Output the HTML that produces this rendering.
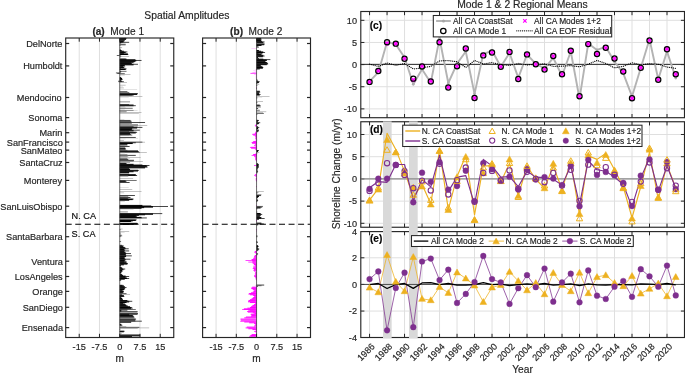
<!DOCTYPE html>
<html><head><meta charset="utf-8"><title>Figure</title>
<style>
html,body{margin:0;padding:0;background:#fff;}
svg{display:block;font-family:"Liberation Sans",sans-serif;}
text{stroke:#262626;stroke-width:0.18px;}
</style></head><body>
<svg width="685" height="374" viewBox="0 0 685 374">
<defs><filter id="idf" filterUnits="userSpaceOnUse" x="0" y="0" width="685" height="374" color-interpolation-filters="sRGB"><feOffset dx="0" dy="0"/></filter></defs>
<rect width="685" height="374" fill="#fff"/>
<g filter="url(#idf)">
<line x1="79.22" y1="38.00" x2="79.22" y2="337.50" stroke="#dfdfdf" stroke-width="1" />
<line x1="99.47" y1="38.00" x2="99.47" y2="337.50" stroke="#dfdfdf" stroke-width="1" />
<line x1="139.97" y1="38.00" x2="139.97" y2="337.50" stroke="#dfdfdf" stroke-width="1" />
<line x1="160.22" y1="38.00" x2="160.22" y2="337.50" stroke="#dfdfdf" stroke-width="1" />
<rect x="119.72" y="37.94" width="6.35" height="1.0" fill="#000"/>
<rect x="125.88" y="38.08" width="0.65" height="0.72" fill="#000"/>
<rect x="119.72" y="38.82" width="6.35" height="1.0" fill="#000"/>
<rect x="119.72" y="39.71" width="5.03" height="1.0" fill="#000"/>
<rect x="119.72" y="40.59" width="4.59" height="1.0" fill="#000"/>
<rect x="119.72" y="41.21" width="3.71" height="1.0" fill="#000"/>
<rect x="119.72" y="41.74" width="3.71" height="1.0" fill="#000"/>
<rect x="123.23" y="41.88" width="5.93" height="0.72" fill="#000"/>
<rect x="119.72" y="42.35" width="1.50" height="1.0" fill="#000"/>
<rect x="119.72" y="43.80" width="5.91" height="0.75" fill="#444"/>
<rect x="119.72" y="44.51" width="5.91" height="0.75" fill="#444"/>
<rect x="119.72" y="45.14" width="0.62" height="0.72" fill="#000"/>
<rect x="119.72" y="47.28" width="2.38" height="0.5" fill="#888"/>
<rect x="119.72" y="47.94" width="1.50" height="0.42" fill="#bbb"/>
<rect x="119.72" y="49.42" width="1.06" height="1.0" fill="#000"/>
<rect x="119.72" y="50.03" width="1.94" height="1.0" fill="#000"/>
<rect x="119.72" y="50.74" width="4.15" height="1.0" fill="#000"/>
<rect x="119.72" y="51.45" width="5.91" height="1.0" fill="#000"/>
<rect x="125.43" y="51.59" width="1.97" height="0.72" fill="#000"/>
<rect x="119.72" y="52.06" width="5.91" height="1.0" fill="#000"/>
<rect x="119.72" y="52.68" width="4.15" height="1.0" fill="#000"/>
<rect x="119.72" y="53.39" width="8.12" height="1.0" fill="#000"/>
<rect x="119.72" y="54.00" width="8.12" height="1.0" fill="#000"/>
<rect x="127.64" y="54.14" width="0.64" height="0.72" fill="#000"/>
<rect x="119.72" y="54.53" width="0.62" height="1.0" fill="#000"/>
<rect x="116.81" y="55.12" width="2.91" height="0.72" fill="#222"/>
<rect x="119.72" y="55.73" width="1.50" height="0.72" fill="#000"/>
<rect x="119.72" y="56.28" width="9.44" height="0.5" fill="#888"/>
<rect x="119.72" y="56.79" width="0.62" height="0.72" fill="#000"/>
<rect x="119.72" y="58.23" width="5.91" height="0.5" fill="#888"/>
<rect x="119.72" y="58.68" width="6.80" height="1.0" fill="#000"/>
<rect x="119.72" y="59.30" width="15.62" height="1.0" fill="#000"/>
<rect x="119.72" y="59.83" width="16.50" height="1.0" fill="#000"/>
<rect x="136.03" y="59.97" width="5.50" height="0.72" fill="#000"/>
<rect x="119.72" y="60.45" width="16.50" height="1.0" fill="#000"/>
<rect x="119.72" y="61.15" width="15.18" height="1.0" fill="#000"/>
<rect x="119.72" y="61.77" width="13.86" height="1.0" fill="#000"/>
<rect x="119.72" y="62.39" width="11.21" height="1.0" fill="#000"/>
<rect x="119.72" y="63.10" width="12.09" height="1.0" fill="#000"/>
<rect x="119.72" y="63.71" width="13.86" height="1.0" fill="#000"/>
<rect x="133.38" y="63.85" width="4.61" height="0.72" fill="#000"/>
<rect x="119.72" y="64.33" width="13.86" height="1.0" fill="#000"/>
<rect x="119.72" y="65.04" width="5.03" height="1.0" fill="#000"/>
<rect x="119.72" y="65.74" width="3.27" height="1.0" fill="#000"/>
<rect x="119.72" y="66.45" width="4.15" height="1.0" fill="#000"/>
<rect x="123.67" y="66.59" width="1.52" height="0.72" fill="#000"/>
<rect x="119.72" y="67.07" width="4.15" height="1.0" fill="#000"/>
<rect x="119.72" y="67.69" width="1.06" height="1.0" fill="#000"/>
<rect x="119.72" y="68.39" width="5.91" height="1.0" fill="#000"/>
<rect x="125.43" y="68.53" width="1.09" height="0.72" fill="#000"/>
<rect x="119.72" y="69.01" width="5.91" height="1.0" fill="#000"/>
<rect x="119.72" y="69.72" width="0.62" height="1.0" fill="#000"/>
<rect x="119.72" y="70.89" width="6.80" height="0.75" fill="#444"/>
<rect x="119.72" y="71.38" width="0.62" height="1.0" fill="#000"/>
<rect x="120.14" y="71.52" width="1.08" height="0.72" fill="#000"/>
<rect x="119.72" y="72.44" width="0.62" height="1.0" fill="#000"/>
<rect x="115.92" y="72.58" width="3.80" height="0.72" fill="#222"/>
<rect x="119.72" y="73.28" width="5.03" height="0.75" fill="#444"/>
<rect x="117.25" y="73.29" width="2.47" height="0.72" fill="#222"/>
<rect x="119.72" y="74.10" width="10.77" height="0.5" fill="#888"/>
<rect x="119.72" y="74.72" width="5.03" height="0.5" fill="#888"/>
<rect x="119.72" y="77.12" width="1.50" height="1.0" fill="#000"/>
<rect x="119.72" y="78.00" width="2.38" height="1.0" fill="#000"/>
<rect x="119.72" y="78.88" width="2.38" height="1.0" fill="#000"/>
<rect x="121.91" y="79.02" width="0.64" height="0.72" fill="#000"/>
<rect x="119.72" y="79.77" width="1.50" height="1.0" fill="#000"/>
<rect x="119.72" y="80.65" width="1.50" height="1.0" fill="#000"/>
<rect x="121.02" y="80.79" width="1.08" height="0.72" fill="#000"/>
<rect x="118.13" y="80.79" width="1.59" height="0.72" fill="#222"/>
<rect x="119.72" y="81.41" width="4.15" height="0.72" fill="#000"/>
<rect x="118.57" y="81.41" width="1.15" height="0.72" fill="#222"/>
<rect x="119.72" y="82.22" width="7.24" height="0.5" fill="#888"/>
<rect x="119.72" y="84.87" width="5.91" height="0.5" fill="#888"/>
<rect x="119.72" y="86.68" width="3.27" height="0.42" fill="#bbb"/>
<rect x="119.72" y="87.70" width="4.15" height="0.5" fill="#888"/>
<rect x="119.72" y="89.32" width="17.39" height="0.42" fill="#bbb"/>
<rect x="119.72" y="91.19" width="7.68" height="0.75" fill="#444"/>
<rect x="119.72" y="91.98" width="9.44" height="0.75" fill="#444"/>
<rect x="119.72" y="92.82" width="10.33" height="0.5" fill="#888"/>
<rect x="119.72" y="93.27" width="17.39" height="1.0" fill="#000"/>
<rect x="136.91" y="93.41" width="1.08" height="0.72" fill="#000"/>
<rect x="119.72" y="93.89" width="17.39" height="1.0" fill="#000"/>
<rect x="119.72" y="94.51" width="13.86" height="1.0" fill="#000"/>
<rect x="119.72" y="95.33" width="12.09" height="0.75" fill="#444"/>
<rect x="119.72" y="96.17" width="22.68" height="0.5" fill="#888"/>
<rect x="119.72" y="96.92" width="9.00" height="0.42" fill="#bbb"/>
<rect x="119.72" y="101.20" width="10.33" height="0.5" fill="#888"/>
<rect x="119.72" y="101.82" width="10.33" height="0.5" fill="#888"/>
<rect x="119.72" y="104.06" width="9.44" height="0.75" fill="#444"/>
<rect x="119.72" y="104.56" width="13.86" height="1.0" fill="#000"/>
<rect x="119.72" y="105.27" width="13.86" height="1.0" fill="#000"/>
<rect x="133.38" y="105.41" width="2.40" height="0.72" fill="#000"/>
<rect x="119.72" y="106.22" width="5.03" height="0.5" fill="#888"/>
<rect x="119.72" y="107.14" width="5.91" height="0.42" fill="#bbb"/>
<rect x="119.72" y="107.86" width="12.97" height="0.75" fill="#444"/>
<rect x="119.72" y="108.69" width="5.03" height="0.5" fill="#888"/>
<rect x="119.72" y="109.97" width="13.86" height="0.75" fill="#444"/>
<rect x="119.72" y="110.14" width="17.83" height="0.42" fill="#bbb"/>
<rect x="119.72" y="110.61" width="6.80" height="0.9" fill="#8c8c8c"/>
<rect x="119.72" y="111.32" width="6.80" height="0.9" fill="#8c8c8c"/>
<rect x="119.72" y="112.22" width="21.80" height="0.5" fill="#888"/>
<rect x="119.72" y="112.93" width="19.15" height="0.5" fill="#888"/>
<rect x="119.72" y="119.50" width="4.59" height="0.42" fill="#bbb"/>
<rect x="119.72" y="119.95" width="10.77" height="0.95" fill="#3c3c3c"/>
<rect x="119.72" y="120.65" width="11.65" height="0.95" fill="#3c3c3c"/>
<rect x="119.72" y="121.36" width="11.65" height="0.95" fill="#3c3c3c"/>
<rect x="119.72" y="122.17" width="25.33" height="0.72" fill="#000"/>
<rect x="119.72" y="122.86" width="12.09" height="0.75" fill="#444"/>
<rect x="119.72" y="123.50" width="9.44" height="0.9" fill="#8c8c8c"/>
<rect x="119.72" y="124.20" width="18.27" height="0.9" fill="#8c8c8c"/>
<rect x="119.72" y="124.82" width="18.27" height="0.9" fill="#8c8c8c"/>
<rect x="119.72" y="125.02" width="27.54" height="0.5" fill="#888"/>
<rect x="119.72" y="125.53" width="18.27" height="0.9" fill="#8c8c8c"/>
<rect x="119.72" y="126.31" width="13.86" height="0.75" fill="#444"/>
<rect x="119.72" y="126.80" width="17.39" height="1.0" fill="#000"/>
<rect x="136.91" y="126.94" width="5.49" height="0.72" fill="#000"/>
<rect x="119.72" y="127.51" width="17.39" height="1.0" fill="#000"/>
<rect x="119.72" y="128.21" width="12.53" height="1.0" fill="#000"/>
<rect x="119.72" y="128.92" width="12.09" height="1.0" fill="#000"/>
<rect x="119.72" y="129.63" width="13.86" height="1.0" fill="#000"/>
<rect x="133.38" y="129.77" width="6.38" height="0.72" fill="#000"/>
<rect x="119.72" y="130.33" width="13.86" height="1.0" fill="#000"/>
<rect x="119.72" y="131.16" width="9.44" height="0.75" fill="#444"/>
<rect x="119.72" y="131.74" width="16.06" height="1.0" fill="#000"/>
<rect x="135.58" y="131.88" width="1.53" height="0.72" fill="#000"/>
<rect x="119.72" y="132.45" width="16.06" height="1.0" fill="#000"/>
<rect x="119.72" y="133.16" width="10.33" height="1.0" fill="#000"/>
<rect x="119.72" y="133.86" width="10.33" height="1.0" fill="#000"/>
<rect x="129.85" y="134.00" width="1.08" height="0.72" fill="#000"/>
<rect x="119.72" y="134.69" width="12.53" height="0.75" fill="#444"/>
<rect x="119.72" y="135.52" width="9.44" height="0.5" fill="#888"/>
<rect x="119.72" y="136.97" width="16.06" height="0.95" fill="#3c3c3c"/>
<rect x="119.72" y="137.94" width="18.27" height="0.42" fill="#bbb"/>
<rect x="119.72" y="138.73" width="5.91" height="0.42" fill="#bbb"/>
<rect x="119.72" y="140.28" width="4.15" height="0.5" fill="#888"/>
<rect x="119.72" y="141.76" width="22.68" height="0.72" fill="#000"/>
<rect x="119.72" y="141.87" width="25.33" height="0.5" fill="#888"/>
<rect x="119.72" y="142.33" width="12.97" height="1.0" fill="#000"/>
<rect x="132.50" y="142.47" width="3.29" height="0.72" fill="#000"/>
<rect x="119.72" y="143.03" width="12.97" height="1.0" fill="#000"/>
<rect x="119.72" y="143.74" width="7.68" height="1.0" fill="#000"/>
<rect x="119.72" y="144.47" width="5.03" height="0.95" fill="#3c3c3c"/>
<rect x="119.72" y="145.20" width="7.68" height="0.9" fill="#8c8c8c"/>
<rect x="119.72" y="146.00" width="9.89" height="0.72" fill="#000"/>
<rect x="119.72" y="147.53" width="5.47" height="1.0" fill="#000"/>
<rect x="119.72" y="148.24" width="5.47" height="1.0" fill="#000"/>
<rect x="124.99" y="148.38" width="0.64" height="0.72" fill="#000"/>
<rect x="119.72" y="148.97" width="5.91" height="0.95" fill="#3c3c3c"/>
<rect x="119.72" y="149.79" width="7.68" height="0.9" fill="#8c8c8c"/>
<rect x="119.72" y="150.45" width="18.27" height="1.0" fill="#000"/>
<rect x="119.72" y="151.15" width="18.27" height="1.0" fill="#000"/>
<rect x="137.79" y="151.29" width="1.08" height="0.72" fill="#000"/>
<rect x="119.72" y="151.89" width="20.04" height="0.95" fill="#3c3c3c"/>
<rect x="119.72" y="152.11" width="27.10" height="0.5" fill="#888"/>
<rect x="119.72" y="152.85" width="5.03" height="0.42" fill="#bbb"/>
<rect x="119.72" y="154.20" width="7.68" height="0.9" fill="#8c8c8c"/>
<rect x="119.72" y="154.89" width="16.06" height="0.95" fill="#3c3c3c"/>
<rect x="119.72" y="155.61" width="8.56" height="0.9" fill="#8c8c8c"/>
<rect x="119.72" y="156.32" width="7.68" height="0.9" fill="#8c8c8c"/>
<rect x="119.72" y="157.23" width="20.92" height="0.5" fill="#888"/>
<rect x="119.72" y="157.97" width="10.33" height="0.42" fill="#bbb"/>
<rect x="119.72" y="158.41" width="7.68" height="0.95" fill="#3c3c3c"/>
<rect x="119.72" y="159.12" width="8.56" height="0.95" fill="#3c3c3c"/>
<rect x="119.72" y="159.83" width="14.30" height="0.95" fill="#3c3c3c"/>
<rect x="119.72" y="160.53" width="13.86" height="0.95" fill="#3c3c3c"/>
<rect x="119.72" y="161.29" width="23.12" height="0.5" fill="#888"/>
<rect x="119.72" y="161.79" width="10.33" height="0.9" fill="#8c8c8c"/>
<rect x="119.72" y="162.50" width="5.91" height="0.9" fill="#8c8c8c"/>
<rect x="119.72" y="163.15" width="6.80" height="1.0" fill="#000"/>
<rect x="119.72" y="163.86" width="13.86" height="1.0" fill="#000"/>
<rect x="119.72" y="164.57" width="22.68" height="1.0" fill="#000"/>
<rect x="119.72" y="165.10" width="27.10" height="1.0" fill="#000"/>
<rect x="146.62" y="165.24" width="2.84" height="0.72" fill="#000"/>
<rect x="119.72" y="165.80" width="27.10" height="1.0" fill="#000"/>
<rect x="119.72" y="166.51" width="27.10" height="1.0" fill="#000"/>
<rect x="146.62" y="166.65" width="1.08" height="0.72" fill="#000"/>
<rect x="119.72" y="167.21" width="25.33" height="1.0" fill="#000"/>
<rect x="119.72" y="167.90" width="9.44" height="0.72" fill="#000"/>
<rect x="119.72" y="168.01" width="25.33" height="0.5" fill="#888"/>
<rect x="119.72" y="168.38" width="9.44" height="1.0" fill="#000"/>
<rect x="119.72" y="169.09" width="10.33" height="1.0" fill="#000"/>
<rect x="119.72" y="169.79" width="18.27" height="1.0" fill="#000"/>
<rect x="137.79" y="169.93" width="1.08" height="0.72" fill="#000"/>
<rect x="119.72" y="170.50" width="18.27" height="1.0" fill="#000"/>
<rect x="119.72" y="171.21" width="13.86" height="1.0" fill="#000"/>
<rect x="119.72" y="171.91" width="9.44" height="1.0" fill="#000"/>
<rect x="119.72" y="173.53" width="9.44" height="0.95" fill="#3c3c3c"/>
<rect x="119.72" y="174.21" width="16.06" height="1.0" fill="#000"/>
<rect x="119.72" y="174.91" width="16.06" height="1.0" fill="#000"/>
<rect x="135.58" y="175.05" width="1.53" height="0.72" fill="#000"/>
<rect x="119.72" y="175.67" width="8.56" height="0.9" fill="#8c8c8c"/>
<rect x="119.72" y="178.16" width="13.42" height="0.5" fill="#888"/>
<rect x="119.72" y="179.99" width="16.95" height="0.75" fill="#444"/>
<rect x="119.72" y="180.56" width="5.91" height="1.0" fill="#000"/>
<rect x="119.72" y="181.27" width="5.91" height="1.0" fill="#000"/>
<rect x="125.43" y="181.41" width="1.09" height="0.72" fill="#000"/>
<rect x="119.72" y="182.00" width="9.89" height="0.95" fill="#3c3c3c"/>
<rect x="119.72" y="187.21" width="9.00" height="0.42" fill="#bbb"/>
<rect x="119.72" y="189.11" width="12.53" height="0.5" fill="#888"/>
<rect x="119.72" y="191.14" width="21.80" height="0.5" fill="#888"/>
<rect x="119.72" y="192.06" width="4.15" height="0.42" fill="#bbb"/>
<rect x="119.72" y="192.77" width="4.59" height="0.42" fill="#bbb"/>
<rect x="119.72" y="195.00" width="15.18" height="0.72" fill="#000"/>
<rect x="119.72" y="195.59" width="8.56" height="0.95" fill="#3c3c3c"/>
<rect x="119.72" y="196.32" width="5.91" height="0.9" fill="#8c8c8c"/>
<rect x="119.72" y="197.00" width="10.77" height="0.95" fill="#3c3c3c"/>
<rect x="119.72" y="197.72" width="7.68" height="0.95" fill="#3c3c3c"/>
<rect x="119.72" y="198.06" width="8.56" height="0.75" fill="#444"/>
<rect x="119.72" y="198.56" width="12.97" height="1.0" fill="#000"/>
<rect x="132.50" y="198.70" width="1.09" height="0.72" fill="#000"/>
<rect x="119.72" y="199.09" width="12.97" height="1.0" fill="#000"/>
<rect x="119.72" y="199.71" width="9.44" height="1.0" fill="#000"/>
<rect x="119.72" y="200.44" width="5.03" height="0.75" fill="#444"/>
<rect x="119.72" y="204.91" width="22.68" height="1.0" fill="#000"/>
<rect x="119.72" y="205.53" width="31.51" height="1.0" fill="#000"/>
<rect x="119.72" y="206.06" width="33.27" height="1.0" fill="#000"/>
<rect x="152.79" y="206.20" width="15.21" height="0.72" fill="#000"/>
<rect x="119.72" y="206.59" width="33.27" height="1.0" fill="#000"/>
<rect x="119.72" y="207.12" width="24.45" height="1.0" fill="#000"/>
<rect x="119.72" y="207.74" width="21.80" height="1.0" fill="#000"/>
<rect x="119.72" y="208.40" width="13.86" height="0.75" fill="#444"/>
<rect x="119.72" y="211.17" width="8.12" height="0.5" fill="#888"/>
<rect x="119.72" y="211.87" width="8.12" height="0.5" fill="#888"/>
<rect x="119.72" y="213.21" width="33.27" height="1.0" fill="#000"/>
<rect x="152.79" y="213.35" width="9.47" height="0.72" fill="#000"/>
<rect x="119.72" y="213.74" width="33.27" height="1.0" fill="#000"/>
<rect x="119.72" y="214.27" width="25.33" height="1.0" fill="#000"/>
<rect x="119.72" y="214.80" width="19.15" height="1.0" fill="#000"/>
<rect x="119.72" y="215.33" width="16.50" height="1.0" fill="#000"/>
<rect x="119.72" y="215.86" width="16.06" height="1.0" fill="#000"/>
<rect x="119.72" y="216.39" width="17.39" height="1.0" fill="#000"/>
<rect x="119.72" y="216.92" width="21.80" height="1.0" fill="#000"/>
<rect x="119.72" y="217.45" width="21.80" height="1.0" fill="#000"/>
<rect x="141.32" y="217.59" width="5.50" height="0.72" fill="#000"/>
<rect x="119.72" y="218.23" width="22.68" height="0.5" fill="#888"/>
<rect x="119.72" y="219.39" width="16.06" height="1.0" fill="#000"/>
<rect x="135.58" y="219.53" width="1.09" height="0.72" fill="#000"/>
<rect x="119.72" y="219.92" width="16.06" height="1.0" fill="#000"/>
<rect x="119.72" y="220.45" width="12.97" height="1.0" fill="#000"/>
<rect x="119.72" y="220.98" width="11.21" height="1.0" fill="#000"/>
<rect x="119.72" y="222.83" width="17.39" height="1.0" fill="#000"/>
<rect x="136.91" y="222.97" width="1.08" height="0.72" fill="#000"/>
<rect x="119.72" y="223.36" width="17.39" height="1.0" fill="#000"/>
<rect x="119.72" y="223.89" width="13.86" height="1.0" fill="#000"/>
<rect x="119.72" y="228.77" width="2.94" height="0.5" fill="#888"/>
<rect x="119.72" y="229.48" width="0.82" height="0.72" fill="#000"/>
<rect x="119.72" y="231.23" width="9.48" height="0.5" fill="#888"/>
<rect x="119.72" y="232.08" width="4.91" height="0.42" fill="#bbb"/>
<rect x="119.72" y="232.75" width="0.82" height="0.72" fill="#000"/>
<rect x="119.72" y="234.71" width="1.64" height="0.72" fill="#000"/>
<rect x="119.72" y="235.51" width="2.45" height="0.75" fill="#444"/>
<rect x="119.72" y="236.35" width="0.82" height="0.72" fill="#000"/>
<rect x="119.72" y="241.25" width="1.31" height="0.72" fill="#000"/>
<rect x="119.72" y="241.11" width="1.50" height="0.42" fill="#bbb"/>
<rect x="119.72" y="244.83" width="2.38" height="0.95" fill="#3c3c3c"/>
<rect x="119.72" y="245.50" width="3.27" height="1.0" fill="#000"/>
<rect x="122.79" y="245.64" width="1.08" height="0.72" fill="#000"/>
<rect x="119.72" y="246.21" width="3.27" height="1.0" fill="#000"/>
<rect x="119.72" y="246.91" width="5.03" height="1.0" fill="#000"/>
<rect x="119.72" y="247.62" width="5.91" height="1.0" fill="#000"/>
<rect x="119.72" y="248.33" width="5.91" height="1.0" fill="#000"/>
<rect x="125.43" y="248.47" width="3.29" height="0.72" fill="#000"/>
<rect x="119.72" y="249.03" width="4.59" height="1.0" fill="#000"/>
<rect x="119.72" y="249.74" width="5.03" height="1.0" fill="#000"/>
<rect x="119.72" y="250.44" width="5.03" height="1.0" fill="#000"/>
<rect x="124.55" y="250.58" width="4.61" height="0.72" fill="#000"/>
<rect x="119.72" y="251.15" width="4.59" height="1.0" fill="#000"/>
<rect x="119.72" y="251.86" width="5.47" height="1.0" fill="#000"/>
<rect x="119.72" y="252.56" width="6.35" height="1.0" fill="#000"/>
<rect x="119.72" y="253.18" width="6.35" height="1.0" fill="#000"/>
<rect x="125.88" y="253.32" width="5.06" height="0.72" fill="#000"/>
<rect x="119.72" y="253.89" width="5.91" height="1.0" fill="#000"/>
<rect x="119.72" y="254.59" width="6.35" height="1.0" fill="#000"/>
<rect x="119.72" y="255.39" width="6.35" height="1.0" fill="#000"/>
<rect x="125.88" y="255.53" width="5.94" height="0.72" fill="#000"/>
<rect x="119.72" y="256.09" width="6.35" height="1.0" fill="#000"/>
<rect x="119.72" y="256.80" width="5.03" height="1.0" fill="#000"/>
<rect x="119.72" y="257.51" width="4.15" height="1.0" fill="#000"/>
<rect x="119.72" y="257.94" width="5.03" height="1.0" fill="#000"/>
<rect x="119.72" y="258.65" width="5.91" height="1.0" fill="#000"/>
<rect x="125.43" y="258.79" width="5.06" height="0.72" fill="#000"/>
<rect x="119.72" y="259.35" width="5.91" height="1.0" fill="#000"/>
<rect x="119.72" y="260.06" width="5.03" height="1.0" fill="#000"/>
<rect x="119.72" y="260.77" width="5.03" height="1.0" fill="#000"/>
<rect x="124.55" y="260.91" width="1.97" height="0.72" fill="#000"/>
<rect x="119.72" y="261.47" width="4.59" height="1.0" fill="#000"/>
<rect x="119.72" y="262.18" width="6.80" height="1.0" fill="#000"/>
<rect x="119.72" y="262.88" width="7.68" height="1.0" fill="#000"/>
<rect x="127.20" y="263.02" width="0.64" height="0.72" fill="#000"/>
<rect x="119.72" y="263.59" width="7.68" height="1.0" fill="#000"/>
<rect x="119.72" y="264.30" width="4.15" height="1.0" fill="#000"/>
<rect x="119.72" y="265.00" width="1.06" height="1.0" fill="#000"/>
<rect x="119.72" y="266.41" width="1.06" height="1.0" fill="#000"/>
<rect x="119.72" y="267.12" width="1.94" height="1.0" fill="#000"/>
<rect x="119.72" y="267.83" width="2.82" height="1.0" fill="#000"/>
<rect x="119.72" y="268.53" width="3.71" height="1.0" fill="#000"/>
<rect x="123.23" y="268.67" width="1.96" height="0.72" fill="#000"/>
<rect x="119.72" y="269.24" width="3.71" height="1.0" fill="#000"/>
<rect x="119.72" y="269.94" width="2.38" height="1.0" fill="#000"/>
<rect x="119.72" y="270.65" width="2.38" height="1.0" fill="#000"/>
<rect x="121.91" y="270.79" width="0.64" height="0.72" fill="#000"/>
<rect x="119.72" y="271.36" width="1.94" height="1.0" fill="#000"/>
<rect x="119.72" y="272.06" width="1.50" height="1.0" fill="#000"/>
<rect x="119.72" y="272.77" width="0.62" height="1.0" fill="#000"/>
<rect x="119.72" y="273.48" width="1.50" height="1.0" fill="#000"/>
<rect x="119.72" y="274.18" width="2.38" height="1.0" fill="#000"/>
<rect x="119.72" y="274.89" width="3.27" height="1.0" fill="#000"/>
<rect x="119.72" y="275.59" width="5.91" height="1.0" fill="#000"/>
<rect x="119.72" y="276.12" width="5.91" height="1.0" fill="#000"/>
<rect x="125.43" y="276.26" width="3.73" height="0.72" fill="#000"/>
<rect x="119.72" y="276.83" width="5.91" height="1.0" fill="#000"/>
<rect x="119.72" y="277.54" width="7.24" height="1.0" fill="#000"/>
<rect x="119.72" y="277.98" width="7.24" height="1.0" fill="#000"/>
<rect x="126.77" y="278.12" width="2.40" height="0.72" fill="#000"/>
<rect x="119.72" y="278.68" width="5.03" height="1.0" fill="#000"/>
<rect x="119.72" y="279.39" width="1.50" height="1.0" fill="#000"/>
<rect x="119.72" y="280.09" width="0.62" height="1.0" fill="#000"/>
<rect x="119.72" y="284.82" width="2.82" height="1.0" fill="#000"/>
<rect x="122.34" y="284.96" width="1.53" height="0.72" fill="#000"/>
<rect x="119.72" y="285.44" width="2.82" height="1.0" fill="#000"/>
<rect x="119.72" y="286.15" width="5.03" height="1.0" fill="#000"/>
<rect x="119.72" y="286.85" width="5.03" height="1.0" fill="#000"/>
<rect x="124.55" y="286.99" width="1.97" height="0.72" fill="#000"/>
<rect x="119.72" y="287.56" width="5.03" height="1.0" fill="#000"/>
<rect x="119.72" y="288.27" width="5.03" height="1.0" fill="#000"/>
<rect x="124.55" y="288.41" width="0.64" height="0.72" fill="#000"/>
<rect x="119.72" y="288.97" width="4.59" height="1.0" fill="#000"/>
<rect x="119.72" y="289.68" width="2.38" height="1.0" fill="#000"/>
<rect x="119.72" y="290.38" width="3.71" height="1.0" fill="#000"/>
<rect x="119.72" y="291.09" width="3.71" height="1.0" fill="#000"/>
<rect x="123.23" y="291.23" width="0.64" height="0.72" fill="#000"/>
<rect x="119.72" y="291.80" width="3.71" height="1.0" fill="#000"/>
<rect x="119.72" y="292.50" width="2.82" height="1.0" fill="#000"/>
<rect x="119.72" y="293.23" width="6.80" height="0.95" fill="#3c3c3c"/>
<rect x="119.72" y="293.99" width="10.33" height="0.5" fill="#888"/>
<rect x="119.72" y="294.44" width="2.38" height="1.0" fill="#000"/>
<rect x="119.72" y="295.15" width="4.15" height="1.0" fill="#000"/>
<rect x="119.72" y="295.86" width="4.15" height="1.0" fill="#000"/>
<rect x="123.67" y="296.00" width="0.64" height="0.72" fill="#000"/>
<rect x="119.72" y="296.56" width="1.50" height="1.0" fill="#000"/>
<rect x="119.72" y="297.27" width="1.50" height="1.0" fill="#000"/>
<rect x="119.72" y="297.97" width="2.38" height="1.0" fill="#000"/>
<rect x="119.72" y="298.68" width="2.82" height="1.0" fill="#000"/>
<rect x="119.72" y="299.39" width="3.27" height="1.0" fill="#000"/>
<rect x="119.72" y="300.09" width="7.68" height="1.0" fill="#000"/>
<rect x="119.72" y="300.71" width="9.44" height="1.0" fill="#000"/>
<rect x="128.97" y="300.85" width="3.29" height="0.72" fill="#000"/>
<rect x="119.72" y="301.42" width="9.44" height="1.0" fill="#000"/>
<rect x="119.72" y="302.03" width="6.80" height="1.0" fill="#000"/>
<rect x="119.72" y="302.74" width="3.27" height="1.0" fill="#000"/>
<rect x="119.72" y="303.45" width="5.03" height="1.0" fill="#000"/>
<rect x="119.72" y="304.15" width="5.91" height="1.0" fill="#000"/>
<rect x="119.72" y="304.86" width="6.80" height="1.0" fill="#000"/>
<rect x="119.72" y="305.57" width="8.12" height="1.0" fill="#000"/>
<rect x="119.72" y="306.27" width="10.33" height="1.0" fill="#000"/>
<rect x="119.72" y="306.98" width="11.21" height="1.0" fill="#000"/>
<rect x="130.73" y="307.12" width="1.52" height="0.72" fill="#000"/>
<rect x="119.72" y="307.68" width="11.21" height="1.0" fill="#000"/>
<rect x="119.72" y="308.39" width="11.21" height="1.0" fill="#000"/>
<rect x="130.73" y="308.53" width="1.96" height="0.72" fill="#000"/>
<rect x="119.72" y="309.05" width="16.06" height="0.75" fill="#444"/>
<rect x="119.72" y="309.63" width="1.50" height="1.0" fill="#000"/>
<rect x="121.02" y="309.77" width="6.38" height="0.72" fill="#000"/>
<rect x="119.72" y="310.24" width="1.50" height="1.0" fill="#000"/>
<rect x="119.72" y="310.95" width="1.50" height="1.0" fill="#000"/>
<rect x="121.02" y="311.09" width="16.53" height="0.72" fill="#000"/>
<rect x="119.72" y="311.71" width="17.39" height="0.9" fill="#8c8c8c"/>
<rect x="119.72" y="312.41" width="17.83" height="0.9" fill="#8c8c8c"/>
<rect x="119.72" y="313.09" width="18.27" height="0.95" fill="#3c3c3c"/>
<rect x="119.72" y="313.77" width="9.44" height="1.0" fill="#000"/>
<rect x="128.97" y="313.91" width="8.59" height="0.72" fill="#000"/>
<rect x="119.72" y="314.48" width="9.44" height="1.0" fill="#000"/>
<rect x="119.72" y="314.91" width="13.08" height="1.0" fill="#000"/>
<rect x="119.72" y="315.73" width="13.90" height="1.0" fill="#000"/>
<rect x="119.72" y="316.54" width="13.90" height="1.0" fill="#000"/>
<rect x="133.42" y="316.68" width="0.85" height="0.72" fill="#000"/>
<rect x="119.72" y="317.49" width="14.72" height="0.75" fill="#444"/>
<rect x="119.72" y="318.59" width="15.54" height="1.0" fill="#000"/>
<rect x="135.06" y="318.73" width="1.01" height="0.72" fill="#000"/>
<rect x="119.72" y="319.57" width="15.54" height="1.0" fill="#000"/>
<rect x="119.72" y="320.63" width="15.54" height="1.0" fill="#000"/>
<rect x="135.06" y="320.77" width="6.74" height="0.72" fill="#000"/>
<rect x="119.72" y="321.70" width="11.45" height="1.0" fill="#000"/>
<rect x="119.72" y="322.68" width="0.41" height="1.0" fill="#000"/>
<rect x="119.72" y="323.90" width="1.64" height="1.0" fill="#000"/>
<rect x="119.72" y="324.72" width="1.64" height="1.0" fill="#000"/>
<rect x="121.16" y="324.86" width="1.18" height="0.72" fill="#000"/>
<rect x="119.72" y="326.03" width="6.54" height="0.5" fill="#888"/>
<rect x="119.72" y="326.90" width="19.62" height="0.72" fill="#000"/>
<rect x="119.72" y="327.67" width="29.44" height="0.5" fill="#888"/>
<rect x="119.72" y="328.24" width="17.99" height="0.5" fill="#888"/>
<rect x="119.72" y="328.95" width="0.41" height="0.72" fill="#000"/>
<rect x="119.72" y="330.69" width="4.09" height="1.0" fill="#000"/>
<rect x="123.61" y="330.83" width="1.02" height="0.72" fill="#000"/>
<rect x="119.72" y="331.26" width="4.09" height="1.0" fill="#000"/>
<rect x="119.72" y="333.15" width="2.04" height="0.5" fill="#888"/>
<rect x="119.72" y="334.53" width="20.44" height="1.0" fill="#000"/>
<rect x="119.72" y="335.35" width="20.44" height="1.0" fill="#000"/>
<rect x="119.72" y="336.17" width="12.26" height="1.0" fill="#000"/>
<line x1="119.72" y1="38.00" x2="119.72" y2="337.50" stroke="#2a2a2a" stroke-width="0.7" />
<line x1="65.70" y1="224.20" x2="174.25" y2="224.20" stroke="#000" stroke-width="1.1" stroke-dasharray="6 3.55"/>
<rect x="65.7" y="38.0" width="108.05" height="299.5" fill="none" stroke="#262626" stroke-width="1.15"/>
<line x1="65.70" y1="43.50" x2="69.20" y2="43.50" stroke="#262626" stroke-width="1.2" />
<line x1="173.75" y1="43.50" x2="170.25" y2="43.50" stroke="#262626" stroke-width="1.2" />
<text x="62.40" y="46.90" font-size="9.17" text-anchor="end" fill="#262626" font-weight="normal" >DelNorte</text>
<line x1="65.70" y1="65.90" x2="69.20" y2="65.90" stroke="#262626" stroke-width="1.2" />
<line x1="173.75" y1="65.90" x2="170.25" y2="65.90" stroke="#262626" stroke-width="1.2" />
<text x="62.40" y="69.30" font-size="9.17" text-anchor="end" fill="#262626" font-weight="normal" >Humboldt</text>
<line x1="65.70" y1="97.50" x2="69.20" y2="97.50" stroke="#262626" stroke-width="1.2" />
<line x1="173.75" y1="97.50" x2="170.25" y2="97.50" stroke="#262626" stroke-width="1.2" />
<text x="61.60" y="100.90" font-size="9.17" text-anchor="end" fill="#262626" font-weight="normal" >Mendocino</text>
<line x1="65.70" y1="117.60" x2="69.20" y2="117.60" stroke="#262626" stroke-width="1.2" />
<line x1="173.75" y1="117.60" x2="170.25" y2="117.60" stroke="#262626" stroke-width="1.2" />
<text x="62.40" y="121.00" font-size="9.17" text-anchor="end" fill="#262626" font-weight="normal" >Sonoma</text>
<line x1="65.70" y1="132.70" x2="69.20" y2="132.70" stroke="#262626" stroke-width="1.2" />
<line x1="173.75" y1="132.70" x2="170.25" y2="132.70" stroke="#262626" stroke-width="1.2" />
<text x="62.40" y="136.10" font-size="9.17" text-anchor="end" fill="#262626" font-weight="normal" >Marin</text>
<line x1="65.70" y1="142.10" x2="69.20" y2="142.10" stroke="#262626" stroke-width="1.2" />
<line x1="173.75" y1="142.10" x2="170.25" y2="142.10" stroke="#262626" stroke-width="1.2" />
<text x="62.80" y="145.50" font-size="9.17" text-anchor="end" fill="#262626" font-weight="normal" >SanFrancisco</text>
<line x1="65.70" y1="150.10" x2="69.20" y2="150.10" stroke="#262626" stroke-width="1.2" />
<line x1="173.75" y1="150.10" x2="170.25" y2="150.10" stroke="#262626" stroke-width="1.2" />
<text x="62.40" y="153.50" font-size="9.17" text-anchor="end" fill="#262626" font-weight="normal" >SanMateo</text>
<line x1="65.70" y1="162.50" x2="69.20" y2="162.50" stroke="#262626" stroke-width="1.2" />
<line x1="173.75" y1="162.50" x2="170.25" y2="162.50" stroke="#262626" stroke-width="1.2" />
<text x="62.60" y="165.90" font-size="9.17" text-anchor="end" fill="#262626" font-weight="normal" >SantaCruz</text>
<line x1="65.70" y1="180.40" x2="69.20" y2="180.40" stroke="#262626" stroke-width="1.2" />
<line x1="173.75" y1="180.40" x2="170.25" y2="180.40" stroke="#262626" stroke-width="1.2" />
<text x="62.00" y="183.80" font-size="9.17" text-anchor="end" fill="#262626" font-weight="normal" >Monterey</text>
<line x1="65.70" y1="206.20" x2="69.20" y2="206.20" stroke="#262626" stroke-width="1.2" />
<line x1="173.75" y1="206.20" x2="170.25" y2="206.20" stroke="#262626" stroke-width="1.2" />
<text x="62.40" y="209.60" font-size="9.17" text-anchor="end" fill="#262626" font-weight="normal" >SanLuisObispo</text>
<line x1="65.70" y1="236.70" x2="69.20" y2="236.70" stroke="#262626" stroke-width="1.2" />
<line x1="173.75" y1="236.70" x2="170.25" y2="236.70" stroke="#262626" stroke-width="1.2" />
<text x="62.60" y="240.10" font-size="9.17" text-anchor="end" fill="#262626" font-weight="normal" >SantaBarbara</text>
<line x1="65.70" y1="261.20" x2="69.20" y2="261.20" stroke="#262626" stroke-width="1.2" />
<line x1="173.75" y1="261.20" x2="170.25" y2="261.20" stroke="#262626" stroke-width="1.2" />
<text x="62.90" y="264.60" font-size="9.17" text-anchor="end" fill="#262626" font-weight="normal" >Ventura</text>
<line x1="65.70" y1="276.50" x2="69.20" y2="276.50" stroke="#262626" stroke-width="1.2" />
<line x1="173.75" y1="276.50" x2="170.25" y2="276.50" stroke="#262626" stroke-width="1.2" />
<text x="62.60" y="279.90" font-size="9.17" text-anchor="end" fill="#262626" font-weight="normal" >LosAngeles</text>
<line x1="65.70" y1="291.40" x2="69.20" y2="291.40" stroke="#262626" stroke-width="1.2" />
<line x1="173.75" y1="291.40" x2="170.25" y2="291.40" stroke="#262626" stroke-width="1.2" />
<text x="62.90" y="294.80" font-size="9.17" text-anchor="end" fill="#262626" font-weight="normal" >Orange</text>
<line x1="65.70" y1="307.30" x2="69.20" y2="307.30" stroke="#262626" stroke-width="1.2" />
<line x1="173.75" y1="307.30" x2="170.25" y2="307.30" stroke="#262626" stroke-width="1.2" />
<text x="62.90" y="310.70" font-size="9.17" text-anchor="end" fill="#262626" font-weight="normal" >SanDiego</text>
<line x1="65.70" y1="327.60" x2="69.20" y2="327.60" stroke="#262626" stroke-width="1.2" />
<line x1="173.75" y1="327.60" x2="170.25" y2="327.60" stroke="#262626" stroke-width="1.2" />
<text x="63.00" y="331.00" font-size="9.17" text-anchor="end" fill="#262626" font-weight="normal" >Ensenada</text>
<line x1="79.22" y1="337.50" x2="79.22" y2="333.80" stroke="#262626" stroke-width="1" />
<line x1="79.22" y1="38.00" x2="79.22" y2="41.70" stroke="#262626" stroke-width="1" />
<text x="79.22" y="349.80" font-size="9.17" text-anchor="middle" fill="#262626" font-weight="normal" >-15</text>
<line x1="99.47" y1="337.50" x2="99.47" y2="333.80" stroke="#262626" stroke-width="1" />
<line x1="99.47" y1="38.00" x2="99.47" y2="41.70" stroke="#262626" stroke-width="1" />
<text x="99.47" y="349.80" font-size="9.17" text-anchor="middle" fill="#262626" font-weight="normal" >-7.5</text>
<line x1="119.72" y1="337.50" x2="119.72" y2="333.80" stroke="#262626" stroke-width="1" />
<line x1="119.72" y1="38.00" x2="119.72" y2="41.70" stroke="#262626" stroke-width="1" />
<text x="119.72" y="349.80" font-size="9.17" text-anchor="middle" fill="#262626" font-weight="normal" >0</text>
<line x1="139.97" y1="337.50" x2="139.97" y2="333.80" stroke="#262626" stroke-width="1" />
<line x1="139.97" y1="38.00" x2="139.97" y2="41.70" stroke="#262626" stroke-width="1" />
<text x="139.97" y="349.80" font-size="9.17" text-anchor="middle" fill="#262626" font-weight="normal" >7.5</text>
<line x1="160.22" y1="337.50" x2="160.22" y2="333.80" stroke="#262626" stroke-width="1" />
<line x1="160.22" y1="38.00" x2="160.22" y2="41.70" stroke="#262626" stroke-width="1" />
<text x="160.22" y="349.80" font-size="9.17" text-anchor="middle" fill="#262626" font-weight="normal" >15</text>
<text x="119.72" y="362.20" font-size="10.1" text-anchor="middle" fill="#262626" font-weight="normal" >m</text>
<line x1="216.05" y1="38.00" x2="216.05" y2="337.50" stroke="#dfdfdf" stroke-width="1" />
<line x1="236.30" y1="38.00" x2="236.30" y2="337.50" stroke="#dfdfdf" stroke-width="1" />
<line x1="276.80" y1="38.00" x2="276.80" y2="337.50" stroke="#dfdfdf" stroke-width="1" />
<line x1="297.05" y1="38.00" x2="297.05" y2="337.50" stroke="#dfdfdf" stroke-width="1" />
<rect x="256.55" y="37.94" width="4.55" height="1.0" fill="#000"/>
<rect x="256.55" y="38.65" width="4.55" height="1.0" fill="#000"/>
<rect x="260.90" y="38.79" width="0.64" height="0.72" fill="#000"/>
<rect x="256.55" y="39.35" width="4.10" height="1.0" fill="#000"/>
<rect x="256.55" y="40.06" width="4.55" height="1.0" fill="#000"/>
<rect x="256.55" y="40.77" width="5.43" height="1.0" fill="#000"/>
<rect x="256.55" y="41.47" width="6.75" height="1.0" fill="#000"/>
<rect x="263.10" y="41.61" width="1.53" height="0.72" fill="#000"/>
<rect x="256.55" y="42.18" width="6.75" height="1.0" fill="#000"/>
<rect x="256.55" y="43.50" width="7.63" height="1.0" fill="#000"/>
<rect x="263.98" y="43.64" width="0.65" height="0.72" fill="#000"/>
<rect x="256.55" y="44.21" width="7.63" height="1.0" fill="#000"/>
<rect x="256.55" y="44.91" width="4.99" height="1.0" fill="#000"/>
<rect x="256.55" y="45.44" width="1.46" height="1.0" fill="#000"/>
<rect x="256.55" y="46.62" width="2.34" height="0.95" fill="#3c3c3c"/>
<rect x="251.39" y="48.56" width="5.16" height="0.42" fill="#FF99FF"/>
<rect x="256.55" y="50.03" width="2.34" height="1.0" fill="#000"/>
<rect x="256.55" y="50.74" width="4.55" height="1.0" fill="#000"/>
<rect x="256.55" y="51.45" width="6.75" height="1.0" fill="#000"/>
<rect x="256.55" y="51.97" width="6.75" height="1.0" fill="#000"/>
<rect x="263.10" y="52.11" width="1.97" height="0.72" fill="#000"/>
<rect x="256.55" y="52.68" width="5.87" height="1.0" fill="#000"/>
<rect x="256.55" y="53.39" width="1.90" height="1.0" fill="#000"/>
<rect x="256.55" y="54.09" width="4.99" height="1.0" fill="#000"/>
<rect x="256.55" y="54.80" width="6.75" height="1.0" fill="#000"/>
<rect x="256.55" y="55.51" width="6.75" height="1.0" fill="#000"/>
<rect x="263.10" y="55.65" width="1.53" height="0.72" fill="#000"/>
<rect x="256.55" y="56.21" width="6.31" height="1.0" fill="#000"/>
<rect x="256.55" y="56.92" width="1.46" height="1.0" fill="#000"/>
<rect x="256.55" y="58.00" width="2.34" height="0.95" fill="#3c3c3c"/>
<rect x="256.55" y="58.68" width="6.75" height="1.0" fill="#000"/>
<rect x="256.55" y="59.21" width="10.28" height="1.0" fill="#000"/>
<rect x="266.63" y="59.35" width="3.73" height="0.72" fill="#000"/>
<rect x="256.55" y="59.92" width="10.28" height="1.0" fill="#000"/>
<rect x="256.55" y="60.62" width="8.52" height="1.0" fill="#000"/>
<rect x="256.55" y="61.33" width="8.96" height="1.0" fill="#000"/>
<rect x="256.55" y="62.04" width="10.28" height="1.0" fill="#000"/>
<rect x="256.55" y="62.74" width="11.17" height="1.0" fill="#000"/>
<rect x="256.55" y="63.45" width="11.17" height="1.0" fill="#000"/>
<rect x="267.52" y="63.59" width="0.64" height="0.72" fill="#000"/>
<rect x="256.55" y="64.15" width="10.28" height="1.0" fill="#000"/>
<rect x="256.55" y="64.86" width="4.10" height="1.0" fill="#000"/>
<rect x="256.55" y="65.57" width="4.55" height="1.0" fill="#000"/>
<rect x="256.55" y="66.27" width="5.87" height="1.0" fill="#000"/>
<rect x="256.55" y="66.98" width="6.31" height="1.0" fill="#000"/>
<rect x="262.66" y="67.12" width="0.64" height="0.72" fill="#000"/>
<rect x="256.55" y="67.69" width="6.31" height="1.0" fill="#000"/>
<rect x="256.55" y="68.39" width="3.22" height="1.0" fill="#000"/>
<rect x="255.18" y="69.21" width="1.37" height="0.42" fill="#FF99FF"/>
<rect x="256.55" y="69.06" width="0.57" height="0.72" fill="#000"/>
<rect x="253.20" y="70.62" width="3.35" height="0.42" fill="#FF99FF"/>
<rect x="254.83" y="71.43" width="1.72" height="0.42" fill="#FF99FF"/>
<rect x="252.38" y="72.21" width="4.17" height="0.5" fill="#FF66FF"/>
<rect x="250.42" y="72.92" width="6.13" height="0.72" fill="#FF00FF"/>
<rect x="254.02" y="73.85" width="2.53" height="0.5" fill="#FF66FF"/>
<rect x="255.32" y="74.70" width="1.23" height="0.42" fill="#FF99FF"/>
<rect x="255.65" y="75.52" width="0.90" height="0.42" fill="#FF99FF"/>
<rect x="255.32" y="76.67" width="1.23" height="0.42" fill="#FF99FF"/>
<rect x="255.65" y="77.48" width="0.90" height="0.42" fill="#FF99FF"/>
<rect x="255.65" y="78.30" width="0.90" height="0.42" fill="#FF99FF"/>
<rect x="256.55" y="78.97" width="0.74" height="0.72" fill="#000"/>
<rect x="256.55" y="80.46" width="1.55" height="1.0" fill="#000"/>
<rect x="256.55" y="81.28" width="2.37" height="1.0" fill="#000"/>
<rect x="258.72" y="81.42" width="1.02" height="0.72" fill="#000"/>
<rect x="256.55" y="82.10" width="2.37" height="1.0" fill="#000"/>
<rect x="256.55" y="82.92" width="0.74" height="1.0" fill="#000"/>
<rect x="256.55" y="84.47" width="2.70" height="0.5" fill="#888"/>
<rect x="256.55" y="85.18" width="0.74" height="0.72" fill="#000"/>
<rect x="255.98" y="87.14" width="0.57" height="0.72" fill="#FF00FF"/>
<rect x="256.55" y="87.96" width="0.41" height="0.72" fill="#000"/>
<rect x="256.55" y="90.76" width="3.19" height="1.0" fill="#000"/>
<rect x="256.55" y="91.58" width="3.19" height="1.0" fill="#000"/>
<rect x="259.54" y="91.72" width="0.69" height="0.72" fill="#000"/>
<rect x="256.55" y="92.40" width="2.37" height="1.0" fill="#000"/>
<rect x="256.55" y="93.22" width="2.70" height="1.0" fill="#000"/>
<rect x="256.55" y="94.03" width="2.70" height="1.0" fill="#000"/>
<rect x="259.05" y="94.17" width="1.51" height="0.72" fill="#000"/>
<rect x="256.55" y="95.11" width="3.19" height="0.75" fill="#444"/>
<rect x="256.55" y="96.06" width="13.00" height="0.5" fill="#888"/>
<rect x="256.55" y="96.92" width="5.64" height="0.42" fill="#bbb"/>
<rect x="256.55" y="97.58" width="0.74" height="0.72" fill="#000"/>
<rect x="256.55" y="101.29" width="6.46" height="0.5" fill="#888"/>
<rect x="256.55" y="102.00" width="0.74" height="0.72" fill="#000"/>
<rect x="256.55" y="104.64" width="3.19" height="1.0" fill="#000"/>
<rect x="256.55" y="105.45" width="3.19" height="1.0" fill="#000"/>
<rect x="259.54" y="105.59" width="1.34" height="0.72" fill="#000"/>
<rect x="256.55" y="106.52" width="3.19" height="0.5" fill="#888"/>
<rect x="256.55" y="107.50" width="4.33" height="0.5" fill="#888"/>
<rect x="256.55" y="108.21" width="1.55" height="0.72" fill="#000"/>
<rect x="256.55" y="109.83" width="3.19" height="0.75" fill="#444"/>
<rect x="256.55" y="110.77" width="3.19" height="0.5" fill="#888"/>
<rect x="256.55" y="111.59" width="9.73" height="0.5" fill="#888"/>
<rect x="256.55" y="112.41" width="6.46" height="0.5" fill="#888"/>
<rect x="256.55" y="113.11" width="7.28" height="0.75" fill="#444"/>
<rect x="256.55" y="113.93" width="0.74" height="0.72" fill="#000"/>
<rect x="256.55" y="119.84" width="1.55" height="1.0" fill="#000"/>
<rect x="257.90" y="119.98" width="1.02" height="0.72" fill="#000"/>
<rect x="256.55" y="120.66" width="1.55" height="1.0" fill="#000"/>
<rect x="256.55" y="121.48" width="1.06" height="1.0" fill="#000"/>
<rect x="256.55" y="122.30" width="2.37" height="1.0" fill="#000"/>
<rect x="258.72" y="122.44" width="1.51" height="0.72" fill="#000"/>
<rect x="256.55" y="123.11" width="2.37" height="1.0" fill="#000"/>
<rect x="256.55" y="123.93" width="0.74" height="1.0" fill="#000"/>
<rect x="255.32" y="124.75" width="1.23" height="1.0" fill="#FF00FF"/>
<rect x="254.83" y="124.89" width="0.69" height="0.72" fill="#FF00FF"/>
<rect x="255.32" y="125.57" width="1.23" height="1.0" fill="#FF00FF"/>
<rect x="256.55" y="126.38" width="1.55" height="1.0" fill="#000"/>
<rect x="256.55" y="127.20" width="1.55" height="1.0" fill="#000"/>
<rect x="257.90" y="127.34" width="1.35" height="0.72" fill="#000"/>
<rect x="256.55" y="128.02" width="1.55" height="1.0" fill="#000"/>
<rect x="256.55" y="128.84" width="0.74" height="1.0" fill="#000"/>
<rect x="256.55" y="129.65" width="2.04" height="1.0" fill="#000"/>
<rect x="258.39" y="129.79" width="0.53" height="0.72" fill="#000"/>
<rect x="256.55" y="130.47" width="2.04" height="1.0" fill="#000"/>
<rect x="255.65" y="131.43" width="0.90" height="0.72" fill="#FF00FF"/>
<rect x="256.55" y="131.43" width="1.55" height="0.72" fill="#000"/>
<rect x="255.32" y="132.11" width="1.23" height="1.0" fill="#FF00FF"/>
<rect x="254.83" y="132.92" width="1.72" height="1.0" fill="#FF00FF"/>
<rect x="253.20" y="133.74" width="3.35" height="1.0" fill="#FF00FF"/>
<rect x="252.05" y="133.88" width="1.35" height="0.72" fill="#FF00FF"/>
<rect x="253.20" y="134.56" width="3.35" height="1.0" fill="#FF00FF"/>
<rect x="254.83" y="135.38" width="1.72" height="1.0" fill="#FF00FF"/>
<rect x="255.32" y="136.19" width="1.23" height="1.0" fill="#FF00FF"/>
<rect x="255.65" y="137.01" width="0.90" height="1.0" fill="#FF00FF"/>
<rect x="255.65" y="137.83" width="0.90" height="1.0" fill="#FF00FF"/>
<rect x="255.32" y="137.97" width="0.53" height="0.72" fill="#FF00FF"/>
<rect x="255.65" y="138.65" width="0.90" height="1.0" fill="#FF00FF"/>
<rect x="256.55" y="139.71" width="0.74" height="0.5" fill="#888"/>
<rect x="255.65" y="140.28" width="0.90" height="1.0" fill="#FF00FF"/>
<rect x="253.20" y="141.10" width="3.35" height="1.0" fill="#FF00FF"/>
<rect x="252.05" y="141.92" width="4.50" height="1.0" fill="#FF00FF"/>
<rect x="251.56" y="142.06" width="0.69" height="0.72" fill="#FF00FF"/>
<rect x="252.05" y="142.73" width="4.50" height="1.0" fill="#FF00FF"/>
<rect x="254.83" y="143.55" width="1.72" height="1.0" fill="#FF00FF"/>
<rect x="255.32" y="144.37" width="1.23" height="1.0" fill="#FF00FF"/>
<rect x="255.32" y="145.19" width="1.23" height="1.0" fill="#FF00FF"/>
<rect x="254.02" y="145.33" width="1.50" height="0.72" fill="#FF00FF"/>
<rect x="255.65" y="146.00" width="0.90" height="1.0" fill="#FF00FF"/>
<rect x="251.07" y="146.82" width="5.48" height="1.0" fill="#FF00FF"/>
<rect x="249.93" y="146.96" width="1.34" height="0.72" fill="#FF00FF"/>
<rect x="251.07" y="147.64" width="5.48" height="1.0" fill="#FF00FF"/>
<rect x="254.83" y="148.46" width="1.72" height="1.0" fill="#FF00FF"/>
<rect x="255.65" y="149.27" width="0.90" height="1.0" fill="#FF00FF"/>
<rect x="256.55" y="150.09" width="1.55" height="1.0" fill="#000"/>
<rect x="257.90" y="150.23" width="1.02" height="0.72" fill="#000"/>
<rect x="256.55" y="150.91" width="1.55" height="1.0" fill="#000"/>
<rect x="256.55" y="151.98" width="2.70" height="0.5" fill="#888"/>
<rect x="256.55" y="152.68" width="0.74" height="0.72" fill="#000"/>
<rect x="255.32" y="153.50" width="1.23" height="0.72" fill="#FF00FF"/>
<rect x="253.20" y="153.99" width="3.35" height="1.0" fill="#FF00FF"/>
<rect x="253.20" y="154.81" width="3.35" height="1.0" fill="#FF00FF"/>
<rect x="251.56" y="154.95" width="1.84" height="0.72" fill="#FF00FF"/>
<rect x="254.02" y="155.63" width="2.53" height="1.0" fill="#FF00FF"/>
<rect x="254.83" y="156.44" width="1.72" height="1.0" fill="#FF00FF"/>
<rect x="255.32" y="157.26" width="1.23" height="1.0" fill="#FF00FF"/>
<rect x="255.32" y="158.08" width="1.23" height="1.0" fill="#FF00FF"/>
<rect x="255.32" y="158.90" width="1.23" height="1.0" fill="#FF00FF"/>
<rect x="255.65" y="159.71" width="0.90" height="1.0" fill="#FF00FF"/>
<rect x="255.98" y="160.53" width="0.57" height="1.0" fill="#FF00FF"/>
<rect x="256.55" y="163.31" width="1.55" height="1.0" fill="#000"/>
<rect x="256.55" y="164.13" width="1.55" height="1.0" fill="#000"/>
<rect x="257.90" y="164.27" width="1.02" height="0.72" fill="#000"/>
<rect x="254.02" y="165.09" width="2.53" height="0.72" fill="#FF00FF"/>
<rect x="256.55" y="164.95" width="2.04" height="1.0" fill="#000"/>
<rect x="256.55" y="165.76" width="2.04" height="1.0" fill="#000"/>
<rect x="256.55" y="166.58" width="2.04" height="1.0" fill="#000"/>
<rect x="258.39" y="166.72" width="0.53" height="0.72" fill="#000"/>
<rect x="256.55" y="167.40" width="1.55" height="1.0" fill="#000"/>
<rect x="256.55" y="168.22" width="1.06" height="1.0" fill="#000"/>
<rect x="256.55" y="169.03" width="0.74" height="1.0" fill="#000"/>
<rect x="256.55" y="169.85" width="0.74" height="1.0" fill="#000"/>
<rect x="256.55" y="170.67" width="1.06" height="1.0" fill="#000"/>
<rect x="257.41" y="170.81" width="0.69" height="0.72" fill="#000"/>
<rect x="256.55" y="171.49" width="1.06" height="1.0" fill="#000"/>
<rect x="256.55" y="172.30" width="0.74" height="1.0" fill="#000"/>
<rect x="255.32" y="173.94" width="1.23" height="1.0" fill="#FF00FF"/>
<rect x="255.32" y="174.76" width="1.23" height="1.0" fill="#FF00FF"/>
<rect x="254.02" y="174.90" width="1.50" height="0.72" fill="#FF00FF"/>
<rect x="255.32" y="175.57" width="1.23" height="1.0" fill="#FF00FF"/>
<rect x="255.98" y="176.39" width="0.57" height="1.0" fill="#FF00FF"/>
<rect x="255.81" y="178.03" width="0.74" height="1.0" fill="#FF00FF"/>
<rect x="255.81" y="178.84" width="0.74" height="1.0" fill="#FF00FF"/>
<rect x="255.81" y="179.66" width="0.74" height="1.0" fill="#FF00FF"/>
<rect x="255.98" y="180.48" width="0.57" height="1.0" fill="#FF00FF"/>
<rect x="255.98" y="186.34" width="0.57" height="0.72" fill="#FF00FF"/>
<rect x="256.55" y="191.03" width="7.28" height="0.5" fill="#888"/>
<rect x="256.55" y="191.85" width="2.37" height="0.5" fill="#888"/>
<rect x="256.55" y="192.55" width="1.06" height="0.72" fill="#000"/>
<rect x="256.55" y="194.50" width="4.82" height="0.75" fill="#444"/>
<rect x="256.55" y="195.19" width="2.37" height="1.0" fill="#000"/>
<rect x="258.72" y="195.33" width="2.16" height="0.72" fill="#000"/>
<rect x="256.55" y="196.01" width="2.37" height="1.0" fill="#000"/>
<rect x="256.55" y="196.83" width="1.55" height="1.0" fill="#000"/>
<rect x="256.55" y="197.65" width="0.74" height="1.0" fill="#000"/>
<rect x="256.55" y="199.28" width="1.06" height="1.0" fill="#000"/>
<rect x="256.55" y="200.10" width="1.06" height="1.0" fill="#000"/>
<rect x="257.41" y="200.24" width="0.69" height="0.72" fill="#000"/>
<rect x="256.55" y="200.92" width="0.74" height="1.0" fill="#000"/>
<rect x="255.98" y="205.14" width="0.57" height="0.72" fill="#FF00FF"/>
<rect x="256.55" y="205.94" width="6.46" height="0.75" fill="#444"/>
<rect x="256.55" y="206.64" width="4.01" height="1.0" fill="#000"/>
<rect x="260.36" y="206.78" width="1.83" height="0.72" fill="#000"/>
<rect x="256.55" y="207.46" width="4.01" height="1.0" fill="#000"/>
<rect x="256.55" y="208.27" width="0.74" height="1.0" fill="#000"/>
<rect x="256.55" y="211.68" width="0.74" height="0.72" fill="#000"/>
<rect x="256.55" y="212.99" width="4.01" height="1.0" fill="#000"/>
<rect x="256.55" y="213.81" width="4.33" height="1.0" fill="#000"/>
<rect x="260.68" y="213.95" width="1.51" height="0.72" fill="#000"/>
<rect x="256.55" y="214.63" width="4.33" height="1.0" fill="#000"/>
<rect x="256.55" y="215.44" width="3.68" height="1.0" fill="#000"/>
<rect x="256.55" y="216.26" width="3.19" height="1.0" fill="#000"/>
<rect x="256.55" y="217.08" width="4.82" height="1.0" fill="#000"/>
<rect x="256.55" y="217.90" width="4.82" height="1.0" fill="#000"/>
<rect x="261.17" y="218.04" width="3.47" height="0.72" fill="#000"/>
<rect x="256.55" y="218.71" width="2.37" height="1.0" fill="#000"/>
<rect x="255.98" y="219.53" width="0.57" height="1.0" fill="#FF00FF"/>
<rect x="255.98" y="220.35" width="0.57" height="1.0" fill="#FF00FF"/>
<rect x="256.55" y="222.64" width="4.82" height="1.0" fill="#000"/>
<rect x="256.55" y="223.45" width="4.82" height="1.0" fill="#000"/>
<rect x="261.17" y="223.59" width="2.66" height="0.72" fill="#000"/>
<rect x="256.55" y="224.27" width="1.55" height="1.0" fill="#000"/>
<rect x="255.98" y="228.99" width="0.57" height="0.72" fill="#FF00FF"/>
<rect x="255.98" y="230.63" width="0.57" height="0.72" fill="#FF00FF"/>
<rect x="256.55" y="235.39" width="0.74" height="1.0" fill="#000"/>
<rect x="256.55" y="236.21" width="0.74" height="1.0" fill="#000"/>
<rect x="256.55" y="241.11" width="0.74" height="1.0" fill="#000"/>
<rect x="256.55" y="241.93" width="0.74" height="1.0" fill="#000"/>
<rect x="257.09" y="242.07" width="0.52" height="0.72" fill="#000"/>
<rect x="256.55" y="245.20" width="1.55" height="1.0" fill="#000"/>
<rect x="256.55" y="246.02" width="1.55" height="1.0" fill="#000"/>
<rect x="257.90" y="246.16" width="0.69" height="0.72" fill="#000"/>
<rect x="256.55" y="246.84" width="1.06" height="1.0" fill="#000"/>
<rect x="256.55" y="247.65" width="1.55" height="1.0" fill="#000"/>
<rect x="256.55" y="248.47" width="2.04" height="1.0" fill="#000"/>
<rect x="258.39" y="248.61" width="0.86" height="0.72" fill="#000"/>
<rect x="256.55" y="249.29" width="2.04" height="1.0" fill="#000"/>
<rect x="256.55" y="250.11" width="1.06" height="1.0" fill="#000"/>
<rect x="254.83" y="250.92" width="1.72" height="1.0" fill="#FF00FF"/>
<rect x="254.83" y="251.74" width="1.72" height="1.0" fill="#FF00FF"/>
<rect x="254.34" y="251.88" width="0.69" height="0.72" fill="#FF00FF"/>
<rect x="255.32" y="252.56" width="1.23" height="1.0" fill="#FF00FF"/>
<rect x="256.55" y="253.38" width="0.74" height="1.0" fill="#000"/>
<rect x="257.09" y="253.52" width="1.01" height="0.72" fill="#000"/>
<rect x="256.55" y="254.19" width="0.74" height="1.0" fill="#000"/>
<rect x="254.83" y="255.01" width="1.72" height="1.0" fill="#FF00FF"/>
<rect x="254.34" y="255.83" width="2.21" height="1.0" fill="#FF00FF"/>
<rect x="254.02" y="255.97" width="0.52" height="0.72" fill="#FF00FF"/>
<rect x="254.34" y="256.65" width="2.21" height="1.0" fill="#FF00FF"/>
<rect x="253.69" y="257.46" width="2.86" height="1.0" fill="#FF00FF"/>
<rect x="253.20" y="258.28" width="3.35" height="1.0" fill="#FF00FF"/>
<rect x="251.56" y="259.10" width="4.99" height="1.0" fill="#FF00FF"/>
<rect x="251.56" y="259.92" width="4.99" height="1.0" fill="#FF00FF"/>
<rect x="245.51" y="260.06" width="6.25" height="0.72" fill="#FF00FF"/>
<rect x="252.38" y="260.73" width="4.17" height="1.0" fill="#FF00FF"/>
<rect x="252.38" y="261.55" width="4.17" height="1.0" fill="#FF00FF"/>
<rect x="248.29" y="261.69" width="4.29" height="0.72" fill="#FF00FF"/>
<rect x="252.38" y="262.37" width="4.17" height="1.0" fill="#FF00FF"/>
<rect x="253.20" y="263.19" width="3.35" height="1.0" fill="#FF00FF"/>
<rect x="254.02" y="264.00" width="2.53" height="1.0" fill="#FF00FF"/>
<rect x="254.83" y="264.82" width="1.72" height="1.0" fill="#FF00FF"/>
<rect x="254.83" y="265.64" width="1.72" height="1.0" fill="#FF00FF"/>
<rect x="253.20" y="265.78" width="1.83" height="0.72" fill="#FF00FF"/>
<rect x="254.83" y="266.46" width="1.72" height="1.0" fill="#FF00FF"/>
<rect x="253.20" y="267.27" width="3.35" height="1.0" fill="#FF00FF"/>
<rect x="253.20" y="268.09" width="3.35" height="1.0" fill="#FF00FF"/>
<rect x="252.71" y="268.23" width="0.69" height="0.72" fill="#FF00FF"/>
<rect x="254.02" y="268.91" width="2.53" height="1.0" fill="#FF00FF"/>
<rect x="254.02" y="269.73" width="2.53" height="1.0" fill="#FF00FF"/>
<rect x="253.20" y="269.87" width="1.02" height="0.72" fill="#FF00FF"/>
<rect x="254.02" y="270.54" width="2.53" height="1.0" fill="#FF00FF"/>
<rect x="255.32" y="271.99" width="1.23" height="1.0" fill="#FF00FF"/>
<rect x="255.32" y="272.81" width="1.23" height="1.0" fill="#FF00FF"/>
<rect x="254.83" y="272.95" width="0.69" height="0.72" fill="#FF00FF"/>
<rect x="255.32" y="273.63" width="1.23" height="1.0" fill="#FF00FF"/>
<rect x="254.83" y="274.44" width="1.72" height="1.0" fill="#FF00FF"/>
<rect x="254.34" y="275.26" width="2.21" height="1.0" fill="#FF00FF"/>
<rect x="254.02" y="275.40" width="0.52" height="0.72" fill="#FF00FF"/>
<rect x="254.34" y="276.08" width="2.21" height="1.0" fill="#FF00FF"/>
<rect x="255.32" y="276.90" width="1.23" height="1.0" fill="#FF00FF"/>
<rect x="255.65" y="277.71" width="0.90" height="1.0" fill="#FF00FF"/>
<rect x="255.65" y="278.53" width="0.90" height="1.0" fill="#FF00FF"/>
<rect x="255.98" y="279.35" width="0.57" height="1.0" fill="#FF00FF"/>
<rect x="256.55" y="284.58" width="7.63" height="0.95" fill="#3c3c3c"/>
<rect x="256.55" y="285.39" width="4.99" height="0.75" fill="#444"/>
<rect x="254.92" y="285.56" width="1.63" height="0.42" fill="#FF99FF"/>
<rect x="256.55" y="286.10" width="1.46" height="0.75" fill="#444"/>
<rect x="252.27" y="286.68" width="4.28" height="1.0" fill="#FF00FF"/>
<rect x="251.39" y="287.38" width="5.16" height="1.0" fill="#FF00FF"/>
<rect x="251.39" y="288.09" width="5.16" height="1.0" fill="#FF00FF"/>
<rect x="252.71" y="288.80" width="3.84" height="1.0" fill="#FF00FF"/>
<rect x="253.59" y="289.50" width="2.96" height="1.0" fill="#FF00FF"/>
<rect x="254.48" y="290.21" width="2.07" height="1.0" fill="#FF00FF"/>
<rect x="253.59" y="290.91" width="2.96" height="1.0" fill="#FF00FF"/>
<rect x="252.71" y="291.62" width="3.84" height="1.0" fill="#FF00FF"/>
<rect x="250.95" y="292.33" width="5.60" height="1.0" fill="#FF00FF"/>
<rect x="249.18" y="293.03" width="7.37" height="1.0" fill="#FF00FF"/>
<rect x="249.18" y="293.56" width="7.37" height="1.0" fill="#FF00FF"/>
<rect x="248.30" y="293.70" width="1.08" height="0.72" fill="#FF00FF"/>
<rect x="250.06" y="294.27" width="6.49" height="1.0" fill="#FF00FF"/>
<rect x="253.15" y="294.97" width="3.40" height="1.0" fill="#FF00FF"/>
<rect x="254.48" y="295.68" width="2.07" height="1.0" fill="#FF00FF"/>
<rect x="254.03" y="296.39" width="2.52" height="1.0" fill="#FF00FF"/>
<rect x="253.15" y="297.09" width="3.40" height="1.0" fill="#FF00FF"/>
<rect x="252.27" y="297.80" width="4.28" height="1.0" fill="#FF00FF"/>
<rect x="251.39" y="298.50" width="5.16" height="1.0" fill="#FF00FF"/>
<rect x="250.06" y="299.21" width="6.49" height="1.0" fill="#FF00FF"/>
<rect x="248.74" y="299.92" width="7.81" height="1.0" fill="#FF00FF"/>
<rect x="248.12" y="300.62" width="8.43" height="1.0" fill="#FF00FF"/>
<rect x="248.12" y="301.33" width="8.43" height="1.0" fill="#FF00FF"/>
<rect x="250.06" y="302.03" width="6.49" height="1.0" fill="#FF00FF"/>
<rect x="255.36" y="302.74" width="1.19" height="1.0" fill="#FF00FF"/>
<rect x="254.92" y="303.45" width="1.63" height="1.0" fill="#FF00FF"/>
<rect x="254.03" y="304.15" width="2.52" height="1.0" fill="#FF00FF"/>
<rect x="252.71" y="304.86" width="3.84" height="1.0" fill="#FF00FF"/>
<rect x="251.83" y="305.57" width="4.72" height="1.0" fill="#FF00FF"/>
<rect x="250.95" y="306.27" width="5.60" height="1.0" fill="#FF00FF"/>
<rect x="250.06" y="306.98" width="6.49" height="1.0" fill="#FF00FF"/>
<rect x="247.41" y="307.68" width="9.14" height="1.0" fill="#FF00FF"/>
<rect x="243.88" y="308.39" width="12.67" height="1.0" fill="#FF00FF"/>
<rect x="243.88" y="308.92" width="12.67" height="1.0" fill="#FF00FF"/>
<rect x="242.12" y="309.06" width="1.96" height="0.72" fill="#FF00FF"/>
<rect x="248.30" y="309.63" width="8.25" height="1.0" fill="#FF00FF"/>
<rect x="250.06" y="310.33" width="6.49" height="1.0" fill="#FF00FF"/>
<rect x="247.86" y="310.86" width="8.69" height="1.0" fill="#FF00FF"/>
<rect x="246.97" y="311.00" width="1.09" height="0.72" fill="#FF00FF"/>
<rect x="247.86" y="311.57" width="8.69" height="1.0" fill="#FF00FF"/>
<rect x="252.71" y="312.27" width="3.84" height="1.0" fill="#FF00FF"/>
<rect x="254.48" y="312.98" width="2.07" height="1.0" fill="#FF00FF"/>
<rect x="251.12" y="313.69" width="5.43" height="1.0" fill="#FF00FF"/>
<rect x="250.50" y="313.83" width="0.82" height="0.72" fill="#FF00FF"/>
<rect x="251.12" y="314.39" width="5.43" height="1.0" fill="#FF00FF"/>
<rect x="251.64" y="314.91" width="4.91" height="1.0" fill="#FF00FF"/>
<rect x="250.83" y="315.73" width="5.72" height="1.0" fill="#FF00FF"/>
<rect x="245.92" y="316.54" width="10.63" height="1.0" fill="#FF00FF"/>
<rect x="244.29" y="317.36" width="12.26" height="1.0" fill="#FF00FF"/>
<rect x="241.01" y="318.59" width="15.54" height="1.0" fill="#FF00FF"/>
<rect x="240.20" y="318.73" width="1.01" height="0.72" fill="#FF00FF"/>
<rect x="241.01" y="319.57" width="15.54" height="1.0" fill="#FF00FF"/>
<rect x="241.01" y="320.63" width="15.54" height="1.0" fill="#FF00FF"/>
<rect x="240.03" y="320.77" width="1.18" height="0.72" fill="#FF00FF"/>
<rect x="244.29" y="321.45" width="12.26" height="1.0" fill="#FF00FF"/>
<rect x="249.19" y="322.27" width="7.36" height="1.0" fill="#FF00FF"/>
<rect x="254.10" y="323.09" width="2.45" height="1.0" fill="#FF00FF"/>
<rect x="255.32" y="323.90" width="1.23" height="1.0" fill="#FF00FF"/>
<rect x="254.91" y="324.72" width="1.64" height="1.0" fill="#FF00FF"/>
<rect x="254.10" y="325.54" width="2.45" height="1.0" fill="#FF00FF"/>
<rect x="246.74" y="326.60" width="9.81" height="1.0" fill="#FF00FF"/>
<rect x="246.74" y="327.42" width="9.81" height="1.0" fill="#FF00FF"/>
<rect x="245.51" y="327.56" width="1.43" height="0.72" fill="#FF00FF"/>
<rect x="248.37" y="328.24" width="8.18" height="1.0" fill="#FF00FF"/>
<rect x="252.46" y="329.05" width="4.09" height="1.0" fill="#FF00FF"/>
<rect x="255.73" y="330.04" width="0.82" height="1.0" fill="#FF00FF"/>
<rect x="255.32" y="330.85" width="1.23" height="1.0" fill="#FF00FF"/>
<rect x="254.10" y="330.99" width="1.42" height="0.72" fill="#FF00FF"/>
<rect x="255.32" y="331.51" width="1.23" height="1.0" fill="#FF00FF"/>
<rect x="256.14" y="332.90" width="0.41" height="1.0" fill="#FF00FF"/>
<rect x="251.64" y="334.12" width="4.91" height="1.0" fill="#FF00FF"/>
<rect x="250.42" y="334.94" width="6.13" height="1.0" fill="#FF00FF"/>
<rect x="250.42" y="335.76" width="6.13" height="1.0" fill="#FF00FF"/>
<rect x="249.19" y="335.90" width="1.43" height="0.72" fill="#FF00FF"/>
<line x1="256.55" y1="38.00" x2="256.55" y2="337.50" stroke="#2a2a2a" stroke-width="0.7" />
<line x1="202.60" y1="224.20" x2="311.00" y2="224.20" stroke="#000" stroke-width="1.1" stroke-dasharray="6 3.55"/>
<rect x="202.6" y="38.0" width="107.9" height="299.5" fill="none" stroke="#262626" stroke-width="1.15"/>
<line x1="202.60" y1="43.50" x2="206.10" y2="43.50" stroke="#262626" stroke-width="1.2" />
<line x1="310.50" y1="43.50" x2="307.00" y2="43.50" stroke="#262626" stroke-width="1.2" />
<line x1="202.60" y1="65.90" x2="206.10" y2="65.90" stroke="#262626" stroke-width="1.2" />
<line x1="310.50" y1="65.90" x2="307.00" y2="65.90" stroke="#262626" stroke-width="1.2" />
<line x1="202.60" y1="97.50" x2="206.10" y2="97.50" stroke="#262626" stroke-width="1.2" />
<line x1="310.50" y1="97.50" x2="307.00" y2="97.50" stroke="#262626" stroke-width="1.2" />
<line x1="202.60" y1="117.60" x2="206.10" y2="117.60" stroke="#262626" stroke-width="1.2" />
<line x1="310.50" y1="117.60" x2="307.00" y2="117.60" stroke="#262626" stroke-width="1.2" />
<line x1="202.60" y1="132.70" x2="206.10" y2="132.70" stroke="#262626" stroke-width="1.2" />
<line x1="310.50" y1="132.70" x2="307.00" y2="132.70" stroke="#262626" stroke-width="1.2" />
<line x1="202.60" y1="142.10" x2="206.10" y2="142.10" stroke="#262626" stroke-width="1.2" />
<line x1="310.50" y1="142.10" x2="307.00" y2="142.10" stroke="#262626" stroke-width="1.2" />
<line x1="202.60" y1="150.10" x2="206.10" y2="150.10" stroke="#262626" stroke-width="1.2" />
<line x1="310.50" y1="150.10" x2="307.00" y2="150.10" stroke="#262626" stroke-width="1.2" />
<line x1="202.60" y1="162.50" x2="206.10" y2="162.50" stroke="#262626" stroke-width="1.2" />
<line x1="310.50" y1="162.50" x2="307.00" y2="162.50" stroke="#262626" stroke-width="1.2" />
<line x1="202.60" y1="180.40" x2="206.10" y2="180.40" stroke="#262626" stroke-width="1.2" />
<line x1="310.50" y1="180.40" x2="307.00" y2="180.40" stroke="#262626" stroke-width="1.2" />
<line x1="202.60" y1="206.20" x2="206.10" y2="206.20" stroke="#262626" stroke-width="1.2" />
<line x1="310.50" y1="206.20" x2="307.00" y2="206.20" stroke="#262626" stroke-width="1.2" />
<line x1="202.60" y1="236.70" x2="206.10" y2="236.70" stroke="#262626" stroke-width="1.2" />
<line x1="310.50" y1="236.70" x2="307.00" y2="236.70" stroke="#262626" stroke-width="1.2" />
<line x1="202.60" y1="261.20" x2="206.10" y2="261.20" stroke="#262626" stroke-width="1.2" />
<line x1="310.50" y1="261.20" x2="307.00" y2="261.20" stroke="#262626" stroke-width="1.2" />
<line x1="202.60" y1="276.50" x2="206.10" y2="276.50" stroke="#262626" stroke-width="1.2" />
<line x1="310.50" y1="276.50" x2="307.00" y2="276.50" stroke="#262626" stroke-width="1.2" />
<line x1="202.60" y1="291.40" x2="206.10" y2="291.40" stroke="#262626" stroke-width="1.2" />
<line x1="310.50" y1="291.40" x2="307.00" y2="291.40" stroke="#262626" stroke-width="1.2" />
<line x1="202.60" y1="307.30" x2="206.10" y2="307.30" stroke="#262626" stroke-width="1.2" />
<line x1="310.50" y1="307.30" x2="307.00" y2="307.30" stroke="#262626" stroke-width="1.2" />
<line x1="202.60" y1="327.60" x2="206.10" y2="327.60" stroke="#262626" stroke-width="1.2" />
<line x1="310.50" y1="327.60" x2="307.00" y2="327.60" stroke="#262626" stroke-width="1.2" />
<line x1="216.05" y1="337.50" x2="216.05" y2="333.80" stroke="#262626" stroke-width="1" />
<line x1="216.05" y1="38.00" x2="216.05" y2="41.70" stroke="#262626" stroke-width="1" />
<text x="216.05" y="349.80" font-size="9.17" text-anchor="middle" fill="#262626" font-weight="normal" >-15</text>
<line x1="236.30" y1="337.50" x2="236.30" y2="333.80" stroke="#262626" stroke-width="1" />
<line x1="236.30" y1="38.00" x2="236.30" y2="41.70" stroke="#262626" stroke-width="1" />
<text x="236.30" y="349.80" font-size="9.17" text-anchor="middle" fill="#262626" font-weight="normal" >-7.5</text>
<line x1="256.55" y1="337.50" x2="256.55" y2="333.80" stroke="#262626" stroke-width="1" />
<line x1="256.55" y1="38.00" x2="256.55" y2="41.70" stroke="#262626" stroke-width="1" />
<text x="256.55" y="349.80" font-size="9.17" text-anchor="middle" fill="#262626" font-weight="normal" >0</text>
<line x1="276.80" y1="337.50" x2="276.80" y2="333.80" stroke="#262626" stroke-width="1" />
<line x1="276.80" y1="38.00" x2="276.80" y2="41.70" stroke="#262626" stroke-width="1" />
<text x="276.80" y="349.80" font-size="9.17" text-anchor="middle" fill="#262626" font-weight="normal" >7.5</text>
<line x1="297.05" y1="337.50" x2="297.05" y2="333.80" stroke="#262626" stroke-width="1" />
<line x1="297.05" y1="38.00" x2="297.05" y2="41.70" stroke="#262626" stroke-width="1" />
<text x="297.05" y="349.80" font-size="9.17" text-anchor="middle" fill="#262626" font-weight="normal" >15</text>
<text x="256.55" y="362.20" font-size="10.1" text-anchor="middle" fill="#262626" font-weight="normal" >m</text>
<text x="71.60" y="219.20" font-size="9.17" text-anchor="start" fill="#000" font-weight="normal" >N. CA</text>
<text x="71.60" y="236.90" font-size="9.17" text-anchor="start" fill="#000" font-weight="normal" >S. CA</text>
<text x="186.80" y="18.50" font-size="10.35" text-anchor="middle" fill="#262626" font-weight="normal" >Spatial Amplitudes</text>
<text x="118.2" y="34.6" font-size="10.1" text-anchor="middle" fill="#262626" xml:space="preserve"><tspan font-weight="bold">(a)</tspan>  Mode 1</text>
<text x="256.2" y="34.6" font-size="10.1" text-anchor="middle" fill="#262626" xml:space="preserve"><tspan font-weight="bold">(b)</tspan>  Mode 2</text>
<line x1="369.55" y1="11.50" x2="369.55" y2="117.70" stroke="#dfdfdf" stroke-width="1" />
<line x1="387.05" y1="11.50" x2="387.05" y2="117.70" stroke="#dfdfdf" stroke-width="1" />
<line x1="404.54" y1="11.50" x2="404.54" y2="117.70" stroke="#dfdfdf" stroke-width="1" />
<line x1="422.04" y1="11.50" x2="422.04" y2="117.70" stroke="#dfdfdf" stroke-width="1" />
<line x1="439.54" y1="11.50" x2="439.54" y2="117.70" stroke="#dfdfdf" stroke-width="1" />
<line x1="457.04" y1="11.50" x2="457.04" y2="117.70" stroke="#dfdfdf" stroke-width="1" />
<line x1="474.53" y1="11.50" x2="474.53" y2="117.70" stroke="#dfdfdf" stroke-width="1" />
<line x1="492.03" y1="11.50" x2="492.03" y2="117.70" stroke="#dfdfdf" stroke-width="1" />
<line x1="509.53" y1="11.50" x2="509.53" y2="117.70" stroke="#dfdfdf" stroke-width="1" />
<line x1="527.02" y1="11.50" x2="527.02" y2="117.70" stroke="#dfdfdf" stroke-width="1" />
<line x1="544.52" y1="11.50" x2="544.52" y2="117.70" stroke="#dfdfdf" stroke-width="1" />
<line x1="562.02" y1="11.50" x2="562.02" y2="117.70" stroke="#dfdfdf" stroke-width="1" />
<line x1="579.52" y1="11.50" x2="579.52" y2="117.70" stroke="#dfdfdf" stroke-width="1" />
<line x1="597.01" y1="11.50" x2="597.01" y2="117.70" stroke="#dfdfdf" stroke-width="1" />
<line x1="614.51" y1="11.50" x2="614.51" y2="117.70" stroke="#dfdfdf" stroke-width="1" />
<line x1="632.01" y1="11.50" x2="632.01" y2="117.70" stroke="#dfdfdf" stroke-width="1" />
<line x1="649.51" y1="11.50" x2="649.51" y2="117.70" stroke="#dfdfdf" stroke-width="1" />
<line x1="667.00" y1="11.50" x2="667.00" y2="117.70" stroke="#dfdfdf" stroke-width="1" />
<line x1="360.80" y1="108.88" x2="684.50" y2="108.88" stroke="#dfdfdf" stroke-width="1" />
<line x1="360.80" y1="86.74" x2="684.50" y2="86.74" stroke="#dfdfdf" stroke-width="1" />
<line x1="360.80" y1="64.60" x2="684.50" y2="64.60" stroke="#dfdfdf" stroke-width="1" />
<line x1="360.80" y1="42.46" x2="684.50" y2="42.46" stroke="#dfdfdf" stroke-width="1" />
<line x1="360.80" y1="20.32" x2="684.50" y2="20.32" stroke="#dfdfdf" stroke-width="1" />
<line x1="360.80" y1="64.35" x2="684.50" y2="64.35" stroke="#262626" stroke-width="1" />
<polyline points="369.55,81.44 378.30,72.42 387.05,41.93 395.79,44.40 404.54,57.43 413.29,84.24 422.04,69.30 430.79,82.68 439.54,38.52 448.29,83.00 457.04,63.68 465.78,51.55 474.53,93.83 483.28,54.04 492.03,50.56 500.78,66.73 509.53,52.99 518.28,77.86 527.02,54.49 535.77,63.78 544.52,68.48 553.27,57.97 562.02,75.72 570.77,51.54 579.52,98.71 588.26,43.43 597.01,49.97 605.76,46.82 614.51,61.77 623.26,73.34 632.01,96.45 640.76,67.96 649.51,39.29 658.25,79.23 667.00,51.41 675.75,78.02" fill="none" stroke="#b3b3b3" stroke-width="1.9" stroke-linejoin="round" />
<circle cx="369.55" cy="81.44" r="1.4" fill="#adadad" stroke="none" stroke-width="0"/>
<circle cx="378.30" cy="72.42" r="1.4" fill="#adadad" stroke="none" stroke-width="0"/>
<circle cx="387.05" cy="41.93" r="1.4" fill="#adadad" stroke="none" stroke-width="0"/>
<circle cx="395.79" cy="44.40" r="1.4" fill="#adadad" stroke="none" stroke-width="0"/>
<circle cx="404.54" cy="57.43" r="1.4" fill="#adadad" stroke="none" stroke-width="0"/>
<circle cx="413.29" cy="84.24" r="1.4" fill="#adadad" stroke="none" stroke-width="0"/>
<circle cx="422.04" cy="69.30" r="1.4" fill="#adadad" stroke="none" stroke-width="0"/>
<circle cx="430.79" cy="82.68" r="1.4" fill="#adadad" stroke="none" stroke-width="0"/>
<circle cx="439.54" cy="38.52" r="1.4" fill="#adadad" stroke="none" stroke-width="0"/>
<circle cx="448.29" cy="83.00" r="1.4" fill="#adadad" stroke="none" stroke-width="0"/>
<circle cx="457.04" cy="63.68" r="1.4" fill="#adadad" stroke="none" stroke-width="0"/>
<circle cx="465.78" cy="51.55" r="1.4" fill="#adadad" stroke="none" stroke-width="0"/>
<circle cx="474.53" cy="93.83" r="1.4" fill="#adadad" stroke="none" stroke-width="0"/>
<circle cx="483.28" cy="54.04" r="1.4" fill="#adadad" stroke="none" stroke-width="0"/>
<circle cx="492.03" cy="50.56" r="1.4" fill="#adadad" stroke="none" stroke-width="0"/>
<circle cx="500.78" cy="66.73" r="1.4" fill="#adadad" stroke="none" stroke-width="0"/>
<circle cx="509.53" cy="52.99" r="1.4" fill="#adadad" stroke="none" stroke-width="0"/>
<circle cx="518.28" cy="77.86" r="1.4" fill="#adadad" stroke="none" stroke-width="0"/>
<circle cx="527.02" cy="54.49" r="1.4" fill="#adadad" stroke="none" stroke-width="0"/>
<circle cx="535.77" cy="63.78" r="1.4" fill="#adadad" stroke="none" stroke-width="0"/>
<circle cx="544.52" cy="68.48" r="1.4" fill="#adadad" stroke="none" stroke-width="0"/>
<circle cx="553.27" cy="57.97" r="1.4" fill="#adadad" stroke="none" stroke-width="0"/>
<circle cx="562.02" cy="75.72" r="1.4" fill="#adadad" stroke="none" stroke-width="0"/>
<circle cx="570.77" cy="51.54" r="1.4" fill="#adadad" stroke="none" stroke-width="0"/>
<circle cx="579.52" cy="98.71" r="1.4" fill="#adadad" stroke="none" stroke-width="0"/>
<circle cx="588.26" cy="43.43" r="1.4" fill="#adadad" stroke="none" stroke-width="0"/>
<circle cx="597.01" cy="49.97" r="1.4" fill="#adadad" stroke="none" stroke-width="0"/>
<circle cx="605.76" cy="46.82" r="1.4" fill="#adadad" stroke="none" stroke-width="0"/>
<circle cx="614.51" cy="61.77" r="1.4" fill="#adadad" stroke="none" stroke-width="0"/>
<circle cx="623.26" cy="73.34" r="1.4" fill="#adadad" stroke="none" stroke-width="0"/>
<circle cx="632.01" cy="96.45" r="1.4" fill="#adadad" stroke="none" stroke-width="0"/>
<circle cx="640.76" cy="67.96" r="1.4" fill="#adadad" stroke="none" stroke-width="0"/>
<circle cx="649.51" cy="39.29" r="1.4" fill="#adadad" stroke="none" stroke-width="0"/>
<circle cx="658.25" cy="79.23" r="1.4" fill="#adadad" stroke="none" stroke-width="0"/>
<circle cx="667.00" cy="51.41" r="1.4" fill="#adadad" stroke="none" stroke-width="0"/>
<circle cx="675.75" cy="78.02" r="1.4" fill="#adadad" stroke="none" stroke-width="0"/>
<polyline points="369.55,64.16 378.30,66.37 387.05,63.01 395.79,65.35 404.54,63.58 413.29,68.89 422.04,67.88 430.79,66.37 439.54,60.93 448.29,60.48 457.04,61.72 465.78,67.43 474.53,60.48 483.28,63.89 492.03,62.70 500.78,64.60 509.53,65.35 518.28,63.45 527.02,64.91 535.77,64.16 544.52,63.89 553.27,66.37 562.02,66.11 570.77,65.66 579.52,66.81 588.26,64.16 597.01,60.48 605.76,63.45 614.51,67.88 623.26,66.37 632.01,62.70 640.76,64.91 649.51,63.58 658.25,64.16 667.00,67.12 675.75,68.32" fill="none" stroke="#000" stroke-width="1.25" stroke-linejoin="round" stroke-dasharray="0.01 1.9" stroke-linecap="round"/>
<circle cx="369.55" cy="81.88" r="2.3" fill="#ff9cff" stroke="none" stroke-width="0"/>
<path d="M367.80,80.13 L371.30,83.63 M371.30,80.13 L367.80,83.63" stroke="#FF00FF" stroke-width="1.55" fill="none"/>
<circle cx="378.30" cy="70.65" r="2.3" fill="#ff9cff" stroke="none" stroke-width="0"/>
<path d="M376.55,68.90 L380.05,72.40 M380.05,68.90 L376.55,72.40" stroke="#FF00FF" stroke-width="1.55" fill="none"/>
<circle cx="387.05" cy="43.53" r="2.3" fill="#ff9cff" stroke="none" stroke-width="0"/>
<path d="M385.30,41.78 L388.80,45.28 M388.80,41.78 L385.30,45.28" stroke="#FF00FF" stroke-width="1.55" fill="none"/>
<circle cx="395.79" cy="43.65" r="2.3" fill="#ff9cff" stroke="none" stroke-width="0"/>
<path d="M394.04,41.90 L397.54,45.40 M397.54,41.90 L394.04,45.40" stroke="#FF00FF" stroke-width="1.55" fill="none"/>
<circle cx="404.54" cy="58.45" r="2.3" fill="#ff9cff" stroke="none" stroke-width="0"/>
<path d="M402.79,56.70 L406.29,60.20 M406.29,56.70 L402.79,60.20" stroke="#FF00FF" stroke-width="1.55" fill="none"/>
<circle cx="413.29" cy="79.95" r="2.3" fill="#ff9cff" stroke="none" stroke-width="0"/>
<path d="M411.54,78.20 L415.04,81.70 M415.04,78.20 L411.54,81.70" stroke="#FF00FF" stroke-width="1.55" fill="none"/>
<circle cx="422.04" cy="66.02" r="2.3" fill="#ff9cff" stroke="none" stroke-width="0"/>
<path d="M420.29,64.27 L423.79,67.77 M423.79,64.27 L420.29,67.77" stroke="#FF00FF" stroke-width="1.55" fill="none"/>
<circle cx="430.79" cy="80.91" r="2.3" fill="#ff9cff" stroke="none" stroke-width="0"/>
<path d="M429.04,79.16 L432.54,82.66 M432.54,79.16 L429.04,82.66" stroke="#FF00FF" stroke-width="1.55" fill="none"/>
<circle cx="439.54" cy="42.20" r="2.3" fill="#ff9cff" stroke="none" stroke-width="0"/>
<path d="M437.79,40.45 L441.29,43.95 M441.29,40.45 L437.79,43.95" stroke="#FF00FF" stroke-width="1.55" fill="none"/>
<circle cx="448.29" cy="87.12" r="2.3" fill="#ff9cff" stroke="none" stroke-width="0"/>
<path d="M446.54,85.37 L450.04,88.87 M450.04,85.37 L446.54,88.87" stroke="#FF00FF" stroke-width="1.55" fill="none"/>
<circle cx="457.04" cy="66.55" r="2.3" fill="#ff9cff" stroke="none" stroke-width="0"/>
<path d="M455.29,64.80 L458.79,68.30 M458.79,64.80 L455.29,68.30" stroke="#FF00FF" stroke-width="1.55" fill="none"/>
<circle cx="465.78" cy="48.72" r="2.3" fill="#ff9cff" stroke="none" stroke-width="0"/>
<path d="M464.03,46.97 L467.53,50.47 M467.53,46.97 L464.03,50.47" stroke="#FF00FF" stroke-width="1.55" fill="none"/>
<circle cx="474.53" cy="97.95" r="2.3" fill="#ff9cff" stroke="none" stroke-width="0"/>
<path d="M472.78,96.20 L476.28,99.70 M476.28,96.20 L472.78,99.70" stroke="#FF00FF" stroke-width="1.55" fill="none"/>
<circle cx="483.28" cy="54.75" r="2.3" fill="#ff9cff" stroke="none" stroke-width="0"/>
<path d="M481.53,53.00 L485.03,56.50 M485.03,53.00 L481.53,56.50" stroke="#FF00FF" stroke-width="1.55" fill="none"/>
<circle cx="492.03" cy="52.46" r="2.3" fill="#ff9cff" stroke="none" stroke-width="0"/>
<path d="M490.28,50.71 L493.78,54.21 M493.78,50.71 L490.28,54.21" stroke="#FF00FF" stroke-width="1.55" fill="none"/>
<circle cx="500.78" cy="66.73" r="2.3" fill="#ff9cff" stroke="none" stroke-width="0"/>
<path d="M499.03,64.98 L502.53,68.48 M502.53,64.98 L499.03,68.48" stroke="#FF00FF" stroke-width="1.55" fill="none"/>
<circle cx="509.53" cy="52.24" r="2.3" fill="#ff9cff" stroke="none" stroke-width="0"/>
<path d="M507.78,50.49 L511.28,53.99 M511.28,50.49 L507.78,53.99" stroke="#FF00FF" stroke-width="1.55" fill="none"/>
<circle cx="518.28" cy="79.02" r="2.3" fill="#ff9cff" stroke="none" stroke-width="0"/>
<path d="M516.53,77.27 L520.03,80.77 M520.03,77.27 L516.53,80.77" stroke="#FF00FF" stroke-width="1.55" fill="none"/>
<circle cx="527.02" cy="54.18" r="2.3" fill="#ff9cff" stroke="none" stroke-width="0"/>
<path d="M525.27,52.43 L528.77,55.93 M528.77,52.43 L525.27,55.93" stroke="#FF00FF" stroke-width="1.55" fill="none"/>
<circle cx="535.77" cy="64.22" r="2.3" fill="#ff9cff" stroke="none" stroke-width="0"/>
<path d="M534.02,62.47 L537.52,65.97 M537.52,62.47 L534.02,65.97" stroke="#FF00FF" stroke-width="1.55" fill="none"/>
<circle cx="544.52" cy="69.19" r="2.3" fill="#ff9cff" stroke="none" stroke-width="0"/>
<path d="M542.77,67.44 L546.27,70.94 M546.27,67.44 L542.77,70.94" stroke="#FF00FF" stroke-width="1.55" fill="none"/>
<circle cx="553.27" cy="56.20" r="2.3" fill="#ff9cff" stroke="none" stroke-width="0"/>
<path d="M551.52,54.45 L555.02,57.95 M555.02,54.45 L551.52,57.95" stroke="#FF00FF" stroke-width="1.55" fill="none"/>
<circle cx="562.02" cy="74.21" r="2.3" fill="#ff9cff" stroke="none" stroke-width="0"/>
<path d="M560.27,72.46 L563.77,75.96 M563.77,72.46 L560.27,75.96" stroke="#FF00FF" stroke-width="1.55" fill="none"/>
<circle cx="570.77" cy="50.48" r="2.3" fill="#ff9cff" stroke="none" stroke-width="0"/>
<path d="M569.02,48.73 L572.52,52.23 M572.52,48.73 L569.02,52.23" stroke="#FF00FF" stroke-width="1.55" fill="none"/>
<circle cx="579.52" cy="96.50" r="2.3" fill="#ff9cff" stroke="none" stroke-width="0"/>
<path d="M577.77,94.75 L581.27,98.25 M581.27,94.75 L577.77,98.25" stroke="#FF00FF" stroke-width="1.55" fill="none"/>
<circle cx="588.26" cy="43.87" r="2.3" fill="#ff9cff" stroke="none" stroke-width="0"/>
<path d="M586.51,42.12 L590.01,45.62 M590.01,42.12 L586.51,45.62" stroke="#FF00FF" stroke-width="1.55" fill="none"/>
<circle cx="597.01" cy="54.09" r="2.3" fill="#ff9cff" stroke="none" stroke-width="0"/>
<path d="M595.26,52.34 L598.76,55.84 M598.76,52.34 L595.26,55.84" stroke="#FF00FF" stroke-width="1.55" fill="none"/>
<circle cx="605.76" cy="47.97" r="2.3" fill="#ff9cff" stroke="none" stroke-width="0"/>
<path d="M604.01,46.22 L607.51,49.72 M607.51,46.22 L604.01,49.72" stroke="#FF00FF" stroke-width="1.55" fill="none"/>
<circle cx="614.51" cy="58.49" r="2.3" fill="#ff9cff" stroke="none" stroke-width="0"/>
<path d="M612.76,56.74 L616.26,60.24 M616.26,56.74 L612.76,60.24" stroke="#FF00FF" stroke-width="1.55" fill="none"/>
<circle cx="623.26" cy="71.57" r="2.3" fill="#ff9cff" stroke="none" stroke-width="0"/>
<path d="M621.51,69.82 L625.01,73.32 M625.01,69.82 L621.51,73.32" stroke="#FF00FF" stroke-width="1.55" fill="none"/>
<circle cx="632.01" cy="98.35" r="2.3" fill="#ff9cff" stroke="none" stroke-width="0"/>
<path d="M630.26,96.60 L633.76,100.10 M633.76,96.60 L630.26,100.10" stroke="#FF00FF" stroke-width="1.55" fill="none"/>
<circle cx="640.76" cy="67.65" r="2.3" fill="#ff9cff" stroke="none" stroke-width="0"/>
<path d="M639.01,65.90 L642.51,69.40 M642.51,65.90 L639.01,69.40" stroke="#FF00FF" stroke-width="1.55" fill="none"/>
<circle cx="649.51" cy="40.30" r="2.3" fill="#ff9cff" stroke="none" stroke-width="0"/>
<path d="M647.76,38.55 L651.26,42.05 M651.26,38.55 L647.76,42.05" stroke="#FF00FF" stroke-width="1.55" fill="none"/>
<circle cx="658.25" cy="79.68" r="2.3" fill="#ff9cff" stroke="none" stroke-width="0"/>
<path d="M656.50,77.93 L660.00,81.43 M660.00,77.93 L656.50,81.43" stroke="#FF00FF" stroke-width="1.55" fill="none"/>
<circle cx="667.00" cy="48.89" r="2.3" fill="#ff9cff" stroke="none" stroke-width="0"/>
<path d="M665.25,47.14 L668.75,50.64 M668.75,47.14 L665.25,50.64" stroke="#FF00FF" stroke-width="1.55" fill="none"/>
<circle cx="675.75" cy="74.30" r="2.3" fill="#ff9cff" stroke="none" stroke-width="0"/>
<path d="M674.00,72.55 L677.50,76.05 M677.50,72.55 L674.00,76.05" stroke="#FF00FF" stroke-width="1.55" fill="none"/>
<circle cx="369.55" cy="81.88" r="2.6" fill="none" stroke="#000" stroke-width="1.2"/>
<circle cx="378.30" cy="71.00" r="2.6" fill="none" stroke="#000" stroke-width="1.2"/>
<circle cx="387.05" cy="42.20" r="2.6" fill="none" stroke="#000" stroke-width="1.2"/>
<circle cx="395.79" cy="43.65" r="2.6" fill="none" stroke="#000" stroke-width="1.2"/>
<circle cx="404.54" cy="58.80" r="2.6" fill="none" stroke="#000" stroke-width="1.2"/>
<circle cx="413.29" cy="78.66" r="2.6" fill="none" stroke="#000" stroke-width="1.2"/>
<circle cx="422.04" cy="66.55" r="2.6" fill="none" stroke="#000" stroke-width="1.2"/>
<circle cx="430.79" cy="81.57" r="2.6" fill="none" stroke="#000" stroke-width="1.2"/>
<circle cx="439.54" cy="42.20" r="2.6" fill="none" stroke="#000" stroke-width="1.2"/>
<circle cx="448.29" cy="87.47" r="2.6" fill="none" stroke="#000" stroke-width="1.2"/>
<circle cx="457.04" cy="66.33" r="2.6" fill="none" stroke="#000" stroke-width="1.2"/>
<circle cx="465.78" cy="48.50" r="2.6" fill="none" stroke="#000" stroke-width="1.2"/>
<circle cx="474.53" cy="97.95" r="2.6" fill="none" stroke="#000" stroke-width="1.2"/>
<circle cx="483.28" cy="55.41" r="2.6" fill="none" stroke="#000" stroke-width="1.2"/>
<circle cx="492.03" cy="52.46" r="2.6" fill="none" stroke="#000" stroke-width="1.2"/>
<circle cx="500.78" cy="66.86" r="2.6" fill="none" stroke="#000" stroke-width="1.2"/>
<circle cx="509.53" cy="51.89" r="2.6" fill="none" stroke="#000" stroke-width="1.2"/>
<circle cx="518.28" cy="79.02" r="2.6" fill="none" stroke="#000" stroke-width="1.2"/>
<circle cx="527.02" cy="54.40" r="2.6" fill="none" stroke="#000" stroke-width="1.2"/>
<circle cx="535.77" cy="64.22" r="2.6" fill="none" stroke="#000" stroke-width="1.2"/>
<circle cx="544.52" cy="69.55" r="2.6" fill="none" stroke="#000" stroke-width="1.2"/>
<circle cx="553.27" cy="55.98" r="2.6" fill="none" stroke="#000" stroke-width="1.2"/>
<circle cx="562.02" cy="74.21" r="2.6" fill="none" stroke="#000" stroke-width="1.2"/>
<circle cx="570.77" cy="50.70" r="2.6" fill="none" stroke="#000" stroke-width="1.2"/>
<circle cx="579.52" cy="96.15" r="2.6" fill="none" stroke="#000" stroke-width="1.2"/>
<circle cx="588.26" cy="44.09" r="2.6" fill="none" stroke="#000" stroke-width="1.2"/>
<circle cx="597.01" cy="53.96" r="2.6" fill="none" stroke="#000" stroke-width="1.2"/>
<circle cx="605.76" cy="47.75" r="2.6" fill="none" stroke="#000" stroke-width="1.2"/>
<circle cx="614.51" cy="58.49" r="2.6" fill="none" stroke="#000" stroke-width="1.2"/>
<circle cx="623.26" cy="71.57" r="2.6" fill="none" stroke="#000" stroke-width="1.2"/>
<circle cx="632.01" cy="98.22" r="2.6" fill="none" stroke="#000" stroke-width="1.2"/>
<circle cx="640.76" cy="67.87" r="2.6" fill="none" stroke="#000" stroke-width="1.2"/>
<circle cx="649.51" cy="40.44" r="2.6" fill="none" stroke="#000" stroke-width="1.2"/>
<circle cx="658.25" cy="79.68" r="2.6" fill="none" stroke="#000" stroke-width="1.2"/>
<circle cx="667.00" cy="49.24" r="2.6" fill="none" stroke="#000" stroke-width="1.2"/>
<circle cx="675.75" cy="74.21" r="2.6" fill="none" stroke="#000" stroke-width="1.2"/>
<rect x="360.8" y="11.5" width="323.7" height="106.2" fill="none" stroke="#262626" stroke-width="1.15"/>
<line x1="369.55" y1="117.70" x2="369.55" y2="114.00" stroke="#262626" stroke-width="1" />
<line x1="369.55" y1="11.50" x2="369.55" y2="15.20" stroke="#262626" stroke-width="1" />
<line x1="387.05" y1="117.70" x2="387.05" y2="114.00" stroke="#262626" stroke-width="1" />
<line x1="387.05" y1="11.50" x2="387.05" y2="15.20" stroke="#262626" stroke-width="1" />
<line x1="404.54" y1="117.70" x2="404.54" y2="114.00" stroke="#262626" stroke-width="1" />
<line x1="404.54" y1="11.50" x2="404.54" y2="15.20" stroke="#262626" stroke-width="1" />
<line x1="422.04" y1="117.70" x2="422.04" y2="114.00" stroke="#262626" stroke-width="1" />
<line x1="422.04" y1="11.50" x2="422.04" y2="15.20" stroke="#262626" stroke-width="1" />
<line x1="439.54" y1="117.70" x2="439.54" y2="114.00" stroke="#262626" stroke-width="1" />
<line x1="439.54" y1="11.50" x2="439.54" y2="15.20" stroke="#262626" stroke-width="1" />
<line x1="457.04" y1="117.70" x2="457.04" y2="114.00" stroke="#262626" stroke-width="1" />
<line x1="457.04" y1="11.50" x2="457.04" y2="15.20" stroke="#262626" stroke-width="1" />
<line x1="474.53" y1="117.70" x2="474.53" y2="114.00" stroke="#262626" stroke-width="1" />
<line x1="474.53" y1="11.50" x2="474.53" y2="15.20" stroke="#262626" stroke-width="1" />
<line x1="492.03" y1="117.70" x2="492.03" y2="114.00" stroke="#262626" stroke-width="1" />
<line x1="492.03" y1="11.50" x2="492.03" y2="15.20" stroke="#262626" stroke-width="1" />
<line x1="509.53" y1="117.70" x2="509.53" y2="114.00" stroke="#262626" stroke-width="1" />
<line x1="509.53" y1="11.50" x2="509.53" y2="15.20" stroke="#262626" stroke-width="1" />
<line x1="527.02" y1="117.70" x2="527.02" y2="114.00" stroke="#262626" stroke-width="1" />
<line x1="527.02" y1="11.50" x2="527.02" y2="15.20" stroke="#262626" stroke-width="1" />
<line x1="544.52" y1="117.70" x2="544.52" y2="114.00" stroke="#262626" stroke-width="1" />
<line x1="544.52" y1="11.50" x2="544.52" y2="15.20" stroke="#262626" stroke-width="1" />
<line x1="562.02" y1="117.70" x2="562.02" y2="114.00" stroke="#262626" stroke-width="1" />
<line x1="562.02" y1="11.50" x2="562.02" y2="15.20" stroke="#262626" stroke-width="1" />
<line x1="579.52" y1="117.70" x2="579.52" y2="114.00" stroke="#262626" stroke-width="1" />
<line x1="579.52" y1="11.50" x2="579.52" y2="15.20" stroke="#262626" stroke-width="1" />
<line x1="597.01" y1="117.70" x2="597.01" y2="114.00" stroke="#262626" stroke-width="1" />
<line x1="597.01" y1="11.50" x2="597.01" y2="15.20" stroke="#262626" stroke-width="1" />
<line x1="614.51" y1="117.70" x2="614.51" y2="114.00" stroke="#262626" stroke-width="1" />
<line x1="614.51" y1="11.50" x2="614.51" y2="15.20" stroke="#262626" stroke-width="1" />
<line x1="632.01" y1="117.70" x2="632.01" y2="114.00" stroke="#262626" stroke-width="1" />
<line x1="632.01" y1="11.50" x2="632.01" y2="15.20" stroke="#262626" stroke-width="1" />
<line x1="649.51" y1="117.70" x2="649.51" y2="114.00" stroke="#262626" stroke-width="1" />
<line x1="649.51" y1="11.50" x2="649.51" y2="15.20" stroke="#262626" stroke-width="1" />
<line x1="667.00" y1="117.70" x2="667.00" y2="114.00" stroke="#262626" stroke-width="1" />
<line x1="667.00" y1="11.50" x2="667.00" y2="15.20" stroke="#262626" stroke-width="1" />
<line x1="360.80" y1="108.88" x2="364.40" y2="108.88" stroke="#262626" stroke-width="1" />
<line x1="684.50" y1="108.88" x2="680.90" y2="108.88" stroke="#262626" stroke-width="1" />
<text x="357.00" y="112.17" font-size="9.17" text-anchor="end" fill="#262626" font-weight="normal" >-10</text>
<line x1="360.80" y1="86.74" x2="364.40" y2="86.74" stroke="#262626" stroke-width="1" />
<line x1="684.50" y1="86.74" x2="680.90" y2="86.74" stroke="#262626" stroke-width="1" />
<text x="357.00" y="90.04" font-size="9.17" text-anchor="end" fill="#262626" font-weight="normal" >-5</text>
<line x1="360.80" y1="64.60" x2="364.40" y2="64.60" stroke="#262626" stroke-width="1" />
<line x1="684.50" y1="64.60" x2="680.90" y2="64.60" stroke="#262626" stroke-width="1" />
<text x="357.00" y="67.90" font-size="9.17" text-anchor="end" fill="#262626" font-weight="normal" >0</text>
<line x1="360.80" y1="42.46" x2="364.40" y2="42.46" stroke="#262626" stroke-width="1" />
<line x1="684.50" y1="42.46" x2="680.90" y2="42.46" stroke="#262626" stroke-width="1" />
<text x="357.00" y="45.76" font-size="9.17" text-anchor="end" fill="#262626" font-weight="normal" >5</text>
<line x1="360.80" y1="20.32" x2="364.40" y2="20.32" stroke="#262626" stroke-width="1" />
<line x1="684.50" y1="20.32" x2="680.90" y2="20.32" stroke="#262626" stroke-width="1" />
<text x="357.00" y="23.62" font-size="9.17" text-anchor="end" fill="#262626" font-weight="normal" >10</text>
<line x1="369.55" y1="121.75" x2="369.55" y2="227.25" stroke="#dfdfdf" stroke-width="1" />
<line x1="387.05" y1="121.75" x2="387.05" y2="227.25" stroke="#dfdfdf" stroke-width="1" />
<line x1="404.54" y1="121.75" x2="404.54" y2="227.25" stroke="#dfdfdf" stroke-width="1" />
<line x1="422.04" y1="121.75" x2="422.04" y2="227.25" stroke="#dfdfdf" stroke-width="1" />
<line x1="439.54" y1="121.75" x2="439.54" y2="227.25" stroke="#dfdfdf" stroke-width="1" />
<line x1="457.04" y1="121.75" x2="457.04" y2="227.25" stroke="#dfdfdf" stroke-width="1" />
<line x1="474.53" y1="121.75" x2="474.53" y2="227.25" stroke="#dfdfdf" stroke-width="1" />
<line x1="492.03" y1="121.75" x2="492.03" y2="227.25" stroke="#dfdfdf" stroke-width="1" />
<line x1="509.53" y1="121.75" x2="509.53" y2="227.25" stroke="#dfdfdf" stroke-width="1" />
<line x1="527.02" y1="121.75" x2="527.02" y2="227.25" stroke="#dfdfdf" stroke-width="1" />
<line x1="544.52" y1="121.75" x2="544.52" y2="227.25" stroke="#dfdfdf" stroke-width="1" />
<line x1="562.02" y1="121.75" x2="562.02" y2="227.25" stroke="#dfdfdf" stroke-width="1" />
<line x1="579.52" y1="121.75" x2="579.52" y2="227.25" stroke="#dfdfdf" stroke-width="1" />
<line x1="597.01" y1="121.75" x2="597.01" y2="227.25" stroke="#dfdfdf" stroke-width="1" />
<line x1="614.51" y1="121.75" x2="614.51" y2="227.25" stroke="#dfdfdf" stroke-width="1" />
<line x1="632.01" y1="121.75" x2="632.01" y2="227.25" stroke="#dfdfdf" stroke-width="1" />
<line x1="649.51" y1="121.75" x2="649.51" y2="227.25" stroke="#dfdfdf" stroke-width="1" />
<line x1="667.00" y1="121.75" x2="667.00" y2="227.25" stroke="#dfdfdf" stroke-width="1" />
<line x1="360.80" y1="223.31" x2="684.50" y2="223.31" stroke="#dfdfdf" stroke-width="1" />
<line x1="360.80" y1="201.11" x2="684.50" y2="201.11" stroke="#dfdfdf" stroke-width="1" />
<line x1="360.80" y1="178.90" x2="684.50" y2="178.90" stroke="#dfdfdf" stroke-width="1" />
<line x1="360.80" y1="156.69" x2="684.50" y2="156.69" stroke="#dfdfdf" stroke-width="1" />
<line x1="360.80" y1="134.49" x2="684.50" y2="134.49" stroke="#dfdfdf" stroke-width="1" />
<line x1="369.55" y1="231.60" x2="369.55" y2="337.50" stroke="#dfdfdf" stroke-width="1" />
<line x1="387.05" y1="231.60" x2="387.05" y2="337.50" stroke="#dfdfdf" stroke-width="1" />
<line x1="404.54" y1="231.60" x2="404.54" y2="337.50" stroke="#dfdfdf" stroke-width="1" />
<line x1="422.04" y1="231.60" x2="422.04" y2="337.50" stroke="#dfdfdf" stroke-width="1" />
<line x1="439.54" y1="231.60" x2="439.54" y2="337.50" stroke="#dfdfdf" stroke-width="1" />
<line x1="457.04" y1="231.60" x2="457.04" y2="337.50" stroke="#dfdfdf" stroke-width="1" />
<line x1="474.53" y1="231.60" x2="474.53" y2="337.50" stroke="#dfdfdf" stroke-width="1" />
<line x1="492.03" y1="231.60" x2="492.03" y2="337.50" stroke="#dfdfdf" stroke-width="1" />
<line x1="509.53" y1="231.60" x2="509.53" y2="337.50" stroke="#dfdfdf" stroke-width="1" />
<line x1="527.02" y1="231.60" x2="527.02" y2="337.50" stroke="#dfdfdf" stroke-width="1" />
<line x1="544.52" y1="231.60" x2="544.52" y2="337.50" stroke="#dfdfdf" stroke-width="1" />
<line x1="562.02" y1="231.60" x2="562.02" y2="337.50" stroke="#dfdfdf" stroke-width="1" />
<line x1="579.52" y1="231.60" x2="579.52" y2="337.50" stroke="#dfdfdf" stroke-width="1" />
<line x1="597.01" y1="231.60" x2="597.01" y2="337.50" stroke="#dfdfdf" stroke-width="1" />
<line x1="614.51" y1="231.60" x2="614.51" y2="337.50" stroke="#dfdfdf" stroke-width="1" />
<line x1="632.01" y1="231.60" x2="632.01" y2="337.50" stroke="#dfdfdf" stroke-width="1" />
<line x1="649.51" y1="231.60" x2="649.51" y2="337.50" stroke="#dfdfdf" stroke-width="1" />
<line x1="667.00" y1="231.60" x2="667.00" y2="337.50" stroke="#dfdfdf" stroke-width="1" />
<line x1="360.80" y1="311.06" x2="684.50" y2="311.06" stroke="#dfdfdf" stroke-width="1" />
<line x1="360.80" y1="284.43" x2="684.50" y2="284.43" stroke="#dfdfdf" stroke-width="1" />
<line x1="360.80" y1="257.80" x2="684.50" y2="257.80" stroke="#dfdfdf" stroke-width="1" />
<rect x="360.8" y="121.75" width="323.7" height="105.5" fill="none" stroke="#262626" stroke-width="1.15"/>
<line x1="369.55" y1="227.25" x2="369.55" y2="223.55" stroke="#262626" stroke-width="1" />
<line x1="369.55" y1="121.75" x2="369.55" y2="125.45" stroke="#262626" stroke-width="1" />
<line x1="387.05" y1="227.25" x2="387.05" y2="223.55" stroke="#262626" stroke-width="1" />
<line x1="387.05" y1="121.75" x2="387.05" y2="125.45" stroke="#262626" stroke-width="1" />
<line x1="404.54" y1="227.25" x2="404.54" y2="223.55" stroke="#262626" stroke-width="1" />
<line x1="404.54" y1="121.75" x2="404.54" y2="125.45" stroke="#262626" stroke-width="1" />
<line x1="422.04" y1="227.25" x2="422.04" y2="223.55" stroke="#262626" stroke-width="1" />
<line x1="422.04" y1="121.75" x2="422.04" y2="125.45" stroke="#262626" stroke-width="1" />
<line x1="439.54" y1="227.25" x2="439.54" y2="223.55" stroke="#262626" stroke-width="1" />
<line x1="439.54" y1="121.75" x2="439.54" y2="125.45" stroke="#262626" stroke-width="1" />
<line x1="457.04" y1="227.25" x2="457.04" y2="223.55" stroke="#262626" stroke-width="1" />
<line x1="457.04" y1="121.75" x2="457.04" y2="125.45" stroke="#262626" stroke-width="1" />
<line x1="474.53" y1="227.25" x2="474.53" y2="223.55" stroke="#262626" stroke-width="1" />
<line x1="474.53" y1="121.75" x2="474.53" y2="125.45" stroke="#262626" stroke-width="1" />
<line x1="492.03" y1="227.25" x2="492.03" y2="223.55" stroke="#262626" stroke-width="1" />
<line x1="492.03" y1="121.75" x2="492.03" y2="125.45" stroke="#262626" stroke-width="1" />
<line x1="509.53" y1="227.25" x2="509.53" y2="223.55" stroke="#262626" stroke-width="1" />
<line x1="509.53" y1="121.75" x2="509.53" y2="125.45" stroke="#262626" stroke-width="1" />
<line x1="527.02" y1="227.25" x2="527.02" y2="223.55" stroke="#262626" stroke-width="1" />
<line x1="527.02" y1="121.75" x2="527.02" y2="125.45" stroke="#262626" stroke-width="1" />
<line x1="544.52" y1="227.25" x2="544.52" y2="223.55" stroke="#262626" stroke-width="1" />
<line x1="544.52" y1="121.75" x2="544.52" y2="125.45" stroke="#262626" stroke-width="1" />
<line x1="562.02" y1="227.25" x2="562.02" y2="223.55" stroke="#262626" stroke-width="1" />
<line x1="562.02" y1="121.75" x2="562.02" y2="125.45" stroke="#262626" stroke-width="1" />
<line x1="579.52" y1="227.25" x2="579.52" y2="223.55" stroke="#262626" stroke-width="1" />
<line x1="579.52" y1="121.75" x2="579.52" y2="125.45" stroke="#262626" stroke-width="1" />
<line x1="597.01" y1="227.25" x2="597.01" y2="223.55" stroke="#262626" stroke-width="1" />
<line x1="597.01" y1="121.75" x2="597.01" y2="125.45" stroke="#262626" stroke-width="1" />
<line x1="614.51" y1="227.25" x2="614.51" y2="223.55" stroke="#262626" stroke-width="1" />
<line x1="614.51" y1="121.75" x2="614.51" y2="125.45" stroke="#262626" stroke-width="1" />
<line x1="632.01" y1="227.25" x2="632.01" y2="223.55" stroke="#262626" stroke-width="1" />
<line x1="632.01" y1="121.75" x2="632.01" y2="125.45" stroke="#262626" stroke-width="1" />
<line x1="649.51" y1="227.25" x2="649.51" y2="223.55" stroke="#262626" stroke-width="1" />
<line x1="649.51" y1="121.75" x2="649.51" y2="125.45" stroke="#262626" stroke-width="1" />
<line x1="667.00" y1="227.25" x2="667.00" y2="223.55" stroke="#262626" stroke-width="1" />
<line x1="667.00" y1="121.75" x2="667.00" y2="125.45" stroke="#262626" stroke-width="1" />
<line x1="360.80" y1="223.31" x2="364.40" y2="223.31" stroke="#262626" stroke-width="1" />
<line x1="684.50" y1="223.31" x2="680.90" y2="223.31" stroke="#262626" stroke-width="1" />
<text x="357.00" y="226.62" font-size="9.17" text-anchor="end" fill="#262626" font-weight="normal" >-10</text>
<line x1="360.80" y1="201.11" x2="364.40" y2="201.11" stroke="#262626" stroke-width="1" />
<line x1="684.50" y1="201.11" x2="680.90" y2="201.11" stroke="#262626" stroke-width="1" />
<text x="357.00" y="204.41" font-size="9.17" text-anchor="end" fill="#262626" font-weight="normal" >-5</text>
<line x1="360.80" y1="178.90" x2="364.40" y2="178.90" stroke="#262626" stroke-width="1" />
<line x1="684.50" y1="178.90" x2="680.90" y2="178.90" stroke="#262626" stroke-width="1" />
<text x="357.00" y="182.20" font-size="9.17" text-anchor="end" fill="#262626" font-weight="normal" >0</text>
<line x1="360.80" y1="156.69" x2="364.40" y2="156.69" stroke="#262626" stroke-width="1" />
<line x1="684.50" y1="156.69" x2="680.90" y2="156.69" stroke="#262626" stroke-width="1" />
<text x="357.00" y="159.99" font-size="9.17" text-anchor="end" fill="#262626" font-weight="normal" >5</text>
<line x1="360.80" y1="134.49" x2="364.40" y2="134.49" stroke="#262626" stroke-width="1" />
<line x1="684.50" y1="134.49" x2="680.90" y2="134.49" stroke="#262626" stroke-width="1" />
<text x="357.00" y="137.79" font-size="9.17" text-anchor="end" fill="#262626" font-weight="normal" >10</text>
<rect x="360.8" y="231.6" width="323.7" height="105.9" fill="none" stroke="#262626" stroke-width="1.15"/>
<line x1="369.55" y1="337.50" x2="369.55" y2="333.80" stroke="#262626" stroke-width="1" />
<line x1="369.55" y1="231.60" x2="369.55" y2="235.30" stroke="#262626" stroke-width="1" />
<text transform="translate(375.35,347.10) rotate(-45)" font-size="9.17" text-anchor="end" fill="#262626">1986</text>
<line x1="387.05" y1="337.50" x2="387.05" y2="333.80" stroke="#262626" stroke-width="1" />
<line x1="387.05" y1="231.60" x2="387.05" y2="235.30" stroke="#262626" stroke-width="1" />
<text transform="translate(392.85,347.10) rotate(-45)" font-size="9.17" text-anchor="end" fill="#262626">1988</text>
<line x1="404.54" y1="337.50" x2="404.54" y2="333.80" stroke="#262626" stroke-width="1" />
<line x1="404.54" y1="231.60" x2="404.54" y2="235.30" stroke="#262626" stroke-width="1" />
<text transform="translate(410.34,347.10) rotate(-45)" font-size="9.17" text-anchor="end" fill="#262626">1990</text>
<line x1="422.04" y1="337.50" x2="422.04" y2="333.80" stroke="#262626" stroke-width="1" />
<line x1="422.04" y1="231.60" x2="422.04" y2="235.30" stroke="#262626" stroke-width="1" />
<text transform="translate(427.84,347.10) rotate(-45)" font-size="9.17" text-anchor="end" fill="#262626">1992</text>
<line x1="439.54" y1="337.50" x2="439.54" y2="333.80" stroke="#262626" stroke-width="1" />
<line x1="439.54" y1="231.60" x2="439.54" y2="235.30" stroke="#262626" stroke-width="1" />
<text transform="translate(445.34,347.10) rotate(-45)" font-size="9.17" text-anchor="end" fill="#262626">1994</text>
<line x1="457.04" y1="337.50" x2="457.04" y2="333.80" stroke="#262626" stroke-width="1" />
<line x1="457.04" y1="231.60" x2="457.04" y2="235.30" stroke="#262626" stroke-width="1" />
<text transform="translate(462.84,347.10) rotate(-45)" font-size="9.17" text-anchor="end" fill="#262626">1996</text>
<line x1="474.53" y1="337.50" x2="474.53" y2="333.80" stroke="#262626" stroke-width="1" />
<line x1="474.53" y1="231.60" x2="474.53" y2="235.30" stroke="#262626" stroke-width="1" />
<text transform="translate(480.33,347.10) rotate(-45)" font-size="9.17" text-anchor="end" fill="#262626">1998</text>
<line x1="492.03" y1="337.50" x2="492.03" y2="333.80" stroke="#262626" stroke-width="1" />
<line x1="492.03" y1="231.60" x2="492.03" y2="235.30" stroke="#262626" stroke-width="1" />
<text transform="translate(497.83,347.10) rotate(-45)" font-size="9.17" text-anchor="end" fill="#262626">2000</text>
<line x1="509.53" y1="337.50" x2="509.53" y2="333.80" stroke="#262626" stroke-width="1" />
<line x1="509.53" y1="231.60" x2="509.53" y2="235.30" stroke="#262626" stroke-width="1" />
<text transform="translate(515.33,347.10) rotate(-45)" font-size="9.17" text-anchor="end" fill="#262626">2002</text>
<line x1="527.02" y1="337.50" x2="527.02" y2="333.80" stroke="#262626" stroke-width="1" />
<line x1="527.02" y1="231.60" x2="527.02" y2="235.30" stroke="#262626" stroke-width="1" />
<text transform="translate(532.82,347.10) rotate(-45)" font-size="9.17" text-anchor="end" fill="#262626">2004</text>
<line x1="544.52" y1="337.50" x2="544.52" y2="333.80" stroke="#262626" stroke-width="1" />
<line x1="544.52" y1="231.60" x2="544.52" y2="235.30" stroke="#262626" stroke-width="1" />
<text transform="translate(550.32,347.10) rotate(-45)" font-size="9.17" text-anchor="end" fill="#262626">2006</text>
<line x1="562.02" y1="337.50" x2="562.02" y2="333.80" stroke="#262626" stroke-width="1" />
<line x1="562.02" y1="231.60" x2="562.02" y2="235.30" stroke="#262626" stroke-width="1" />
<text transform="translate(567.82,347.10) rotate(-45)" font-size="9.17" text-anchor="end" fill="#262626">2008</text>
<line x1="579.52" y1="337.50" x2="579.52" y2="333.80" stroke="#262626" stroke-width="1" />
<line x1="579.52" y1="231.60" x2="579.52" y2="235.30" stroke="#262626" stroke-width="1" />
<text transform="translate(585.32,347.10) rotate(-45)" font-size="9.17" text-anchor="end" fill="#262626">2010</text>
<line x1="597.01" y1="337.50" x2="597.01" y2="333.80" stroke="#262626" stroke-width="1" />
<line x1="597.01" y1="231.60" x2="597.01" y2="235.30" stroke="#262626" stroke-width="1" />
<text transform="translate(602.81,347.10) rotate(-45)" font-size="9.17" text-anchor="end" fill="#262626">2012</text>
<line x1="614.51" y1="337.50" x2="614.51" y2="333.80" stroke="#262626" stroke-width="1" />
<line x1="614.51" y1="231.60" x2="614.51" y2="235.30" stroke="#262626" stroke-width="1" />
<text transform="translate(620.31,347.10) rotate(-45)" font-size="9.17" text-anchor="end" fill="#262626">2014</text>
<line x1="632.01" y1="337.50" x2="632.01" y2="333.80" stroke="#262626" stroke-width="1" />
<line x1="632.01" y1="231.60" x2="632.01" y2="235.30" stroke="#262626" stroke-width="1" />
<text transform="translate(637.81,347.10) rotate(-45)" font-size="9.17" text-anchor="end" fill="#262626">2016</text>
<line x1="649.51" y1="337.50" x2="649.51" y2="333.80" stroke="#262626" stroke-width="1" />
<line x1="649.51" y1="231.60" x2="649.51" y2="235.30" stroke="#262626" stroke-width="1" />
<text transform="translate(655.31,347.10) rotate(-45)" font-size="9.17" text-anchor="end" fill="#262626">2018</text>
<line x1="667.00" y1="337.50" x2="667.00" y2="333.80" stroke="#262626" stroke-width="1" />
<line x1="667.00" y1="231.60" x2="667.00" y2="235.30" stroke="#262626" stroke-width="1" />
<text transform="translate(672.80,347.10) rotate(-45)" font-size="9.17" text-anchor="end" fill="#262626">2020</text>
<text x="357.00" y="341.40" font-size="9.17" text-anchor="end" fill="#262626" font-weight="normal" >-4</text>
<line x1="360.80" y1="311.06" x2="364.40" y2="311.06" stroke="#262626" stroke-width="1" />
<line x1="684.50" y1="311.06" x2="680.90" y2="311.06" stroke="#262626" stroke-width="1" />
<text x="357.00" y="314.36" font-size="9.17" text-anchor="end" fill="#262626" font-weight="normal" >-2</text>
<line x1="360.80" y1="284.43" x2="364.40" y2="284.43" stroke="#262626" stroke-width="1" />
<line x1="684.50" y1="284.43" x2="680.90" y2="284.43" stroke="#262626" stroke-width="1" />
<text x="357.00" y="287.73" font-size="9.17" text-anchor="end" fill="#262626" font-weight="normal" >0</text>
<line x1="360.80" y1="257.80" x2="364.40" y2="257.80" stroke="#262626" stroke-width="1" />
<line x1="684.50" y1="257.80" x2="680.90" y2="257.80" stroke="#262626" stroke-width="1" />
<text x="357.00" y="261.10" font-size="9.17" text-anchor="end" fill="#262626" font-weight="normal" >2</text>
<text x="357.00" y="235.20" font-size="9.17" text-anchor="end" fill="#262626" font-weight="normal" >4</text>
<rect x="383.0"  y="121.4" width="8.65" height="216.90" fill="#d9d9d9"/>
<rect x="409.0"  y="121.4" width="8.70" height="216.90" fill="#d9d9d9"/>
<line x1="361.30" y1="178.90" x2="684.00" y2="178.90" stroke="#8a8a8a" stroke-width="1.3" />
<polyline points="369.55,200.22 378.30,188.67 387.05,133.24 395.79,149.59 404.54,171.35 413.29,197.11 422.04,184.54 430.79,203.77 439.54,150.03 448.29,209.55 457.04,176.41 465.78,155.80 474.53,214.88 483.28,166.02 492.03,165.58 500.78,182.28 509.53,163.13 518.28,195.56 527.02,166.02 535.77,179.34 544.52,188.23 553.27,166.02 562.02,189.56 570.77,161.58 579.52,214.88 588.26,155.80 597.01,159.36 605.76,153.58 614.51,169.75 623.26,186.72 632.01,217.76 640.76,186.72 649.51,152.25 658.25,199.33 667.00,164.69 675.75,188.23" fill="none" stroke="#EDB120" stroke-width="1.15" stroke-linejoin="round" />
<polyline points="369.55,187.78 378.30,181.56 387.05,182.36 395.79,164.51 404.54,164.51 413.29,200.66 422.04,179.34 430.79,186.89 439.54,155.36 448.29,191.34 457.04,177.12 465.78,175.66 474.53,204.22 483.28,159.36 492.03,166.02 500.78,177.12 509.53,176.68 518.28,186.72 527.02,171.35 535.77,177.12 544.52,177.57 553.27,179.34 562.02,185.12 570.77,166.02 579.52,204.66 588.26,160.91 597.01,169.75 605.76,171.22 614.51,177.12 623.26,184.50 632.01,206.88 640.76,177.88 649.51,158.02 658.25,191.16 667.00,166.02 675.75,188.23" fill="none" stroke="#7E2F8E" stroke-width="1.15" stroke-linejoin="round" />
<polygon points="369.55,197.21 366.10,203.22 373.00,203.22" fill="#EDB120" stroke="#EDB120" stroke-width="0.5" stroke-linejoin="miter"/>
<polygon points="378.30,186.11 374.85,192.11 381.75,192.11" fill="#EDB120" stroke="#EDB120" stroke-width="0.5" stroke-linejoin="miter"/>
<polygon points="387.05,136.45 383.60,142.46 390.50,142.46" fill="#EDB120" stroke="#EDB120" stroke-width="0.5" stroke-linejoin="miter"/>
<polygon points="395.79,148.98 392.34,154.98 399.24,154.98" fill="#EDB120" stroke="#EDB120" stroke-width="0.5" stroke-linejoin="miter"/>
<polygon points="404.54,170.12 401.09,176.12 407.99,176.12" fill="#EDB120" stroke="#EDB120" stroke-width="0.5" stroke-linejoin="miter"/>
<polygon points="413.29,184.07 409.84,190.07 416.74,190.07" fill="#EDB120" stroke="#EDB120" stroke-width="0.5" stroke-linejoin="miter"/>
<polygon points="422.04,183.00 418.59,189.00 425.49,189.00" fill="#EDB120" stroke="#EDB120" stroke-width="0.5" stroke-linejoin="miter"/>
<polygon points="430.79,201.03 427.34,207.04 434.24,207.04" fill="#EDB120" stroke="#EDB120" stroke-width="0.5" stroke-linejoin="miter"/>
<polygon points="439.54,147.47 436.09,153.47 442.99,153.47" fill="#EDB120" stroke="#EDB120" stroke-width="0.5" stroke-linejoin="miter"/>
<polygon points="448.29,206.54 444.84,212.54 451.74,212.54" fill="#EDB120" stroke="#EDB120" stroke-width="0.5" stroke-linejoin="miter"/>
<polygon points="457.04,173.67 453.59,179.68 460.49,179.68" fill="#EDB120" stroke="#EDB120" stroke-width="0.5" stroke-linejoin="miter"/>
<polygon points="465.78,153.46 462.33,159.47 469.23,159.47" fill="#EDB120" stroke="#EDB120" stroke-width="0.5" stroke-linejoin="miter"/>
<polygon points="474.53,216.53 471.08,222.54 477.98,222.54" fill="#EDB120" stroke="#EDB120" stroke-width="0.5" stroke-linejoin="miter"/>
<polygon points="483.28,169.68 479.83,175.68 486.73,175.68" fill="#EDB120" stroke="#EDB120" stroke-width="0.5" stroke-linejoin="miter"/>
<polygon points="492.03,161.24 488.58,167.24 495.48,167.24" fill="#EDB120" stroke="#EDB120" stroke-width="0.5" stroke-linejoin="miter"/>
<polygon points="500.78,177.67 497.33,183.67 504.23,183.67" fill="#EDB120" stroke="#EDB120" stroke-width="0.5" stroke-linejoin="miter"/>
<polygon points="509.53,155.91 506.08,161.91 512.98,161.91" fill="#EDB120" stroke="#EDB120" stroke-width="0.5" stroke-linejoin="miter"/>
<polygon points="518.28,192.55 514.83,198.55 521.73,198.55" fill="#EDB120" stroke="#EDB120" stroke-width="0.5" stroke-linejoin="miter"/>
<polygon points="527.02,164.35 523.57,170.35 530.47,170.35" fill="#EDB120" stroke="#EDB120" stroke-width="0.5" stroke-linejoin="miter"/>
<polygon points="535.77,174.78 532.32,180.79 539.22,180.79" fill="#EDB120" stroke="#EDB120" stroke-width="0.5" stroke-linejoin="miter"/>
<polygon points="544.52,184.78 541.07,190.78 547.97,190.78" fill="#EDB120" stroke="#EDB120" stroke-width="0.5" stroke-linejoin="miter"/>
<polygon points="553.27,160.35 549.82,166.35 556.72,166.35" fill="#EDB120" stroke="#EDB120" stroke-width="0.5" stroke-linejoin="miter"/>
<polygon points="562.02,187.66 558.57,193.67 565.47,193.67" fill="#EDB120" stroke="#EDB120" stroke-width="0.5" stroke-linejoin="miter"/>
<polygon points="570.77,159.68 567.32,165.69 574.22,165.69" fill="#EDB120" stroke="#EDB120" stroke-width="0.5" stroke-linejoin="miter"/>
<polygon points="579.52,210.54 576.07,216.54 582.97,216.54" fill="#EDB120" stroke="#EDB120" stroke-width="0.5" stroke-linejoin="miter"/>
<polygon points="588.26,151.91 584.81,157.91 591.71,157.91" fill="#EDB120" stroke="#EDB120" stroke-width="0.5" stroke-linejoin="miter"/>
<polygon points="597.01,159.46 593.56,165.46 600.46,165.46" fill="#EDB120" stroke="#EDB120" stroke-width="0.5" stroke-linejoin="miter"/>
<polygon points="605.76,151.47 602.31,157.47 609.21,157.47" fill="#EDB120" stroke="#EDB120" stroke-width="0.5" stroke-linejoin="miter"/>
<polygon points="614.51,167.01 611.06,173.01 617.96,173.01" fill="#EDB120" stroke="#EDB120" stroke-width="0.5" stroke-linejoin="miter"/>
<polygon points="623.26,184.78 619.81,190.78 626.71,190.78" fill="#EDB120" stroke="#EDB120" stroke-width="0.5" stroke-linejoin="miter"/>
<polygon points="632.01,214.98 628.56,220.98 635.46,220.98" fill="#EDB120" stroke="#EDB120" stroke-width="0.5" stroke-linejoin="miter"/>
<polygon points="640.76,182.56 637.31,188.56 644.21,188.56" fill="#EDB120" stroke="#EDB120" stroke-width="0.5" stroke-linejoin="miter"/>
<polygon points="649.51,146.14 646.06,152.14 652.96,152.14" fill="#EDB120" stroke="#EDB120" stroke-width="0.5" stroke-linejoin="miter"/>
<polygon points="658.25,194.10 654.80,200.11 661.70,200.11" fill="#EDB120" stroke="#EDB120" stroke-width="0.5" stroke-linejoin="miter"/>
<polygon points="667.00,159.90 663.55,165.91 670.45,165.91" fill="#EDB120" stroke="#EDB120" stroke-width="0.5" stroke-linejoin="miter"/>
<polygon points="675.75,185.67 672.30,191.67 679.20,191.67" fill="#EDB120" stroke="#EDB120" stroke-width="0.5" stroke-linejoin="miter"/>
<circle cx="369.55" cy="188.98" r="2.9" fill="#7E2F8E" stroke="#7E2F8E" stroke-width="0.4"/>
<circle cx="378.30" cy="178.68" r="2.9" fill="#7E2F8E" stroke="#7E2F8E" stroke-width="0.4"/>
<circle cx="387.05" cy="178.68" r="2.9" fill="#7E2F8E" stroke="#7E2F8E" stroke-width="0.4"/>
<circle cx="395.79" cy="165.00" r="2.9" fill="#7E2F8E" stroke="#7E2F8E" stroke-width="0.4"/>
<circle cx="404.54" cy="170.91" r="2.9" fill="#7E2F8E" stroke="#7E2F8E" stroke-width="0.4"/>
<circle cx="413.29" cy="202.26" r="2.9" fill="#7E2F8E" stroke="#7E2F8E" stroke-width="0.4"/>
<circle cx="422.04" cy="172.68" r="2.9" fill="#7E2F8E" stroke="#7E2F8E" stroke-width="0.4"/>
<circle cx="430.79" cy="181.79" r="2.9" fill="#7E2F8E" stroke="#7E2F8E" stroke-width="0.4"/>
<circle cx="439.54" cy="162.24" r="2.9" fill="#7E2F8E" stroke="#7E2F8E" stroke-width="0.4"/>
<circle cx="448.29" cy="189.56" r="2.9" fill="#7E2F8E" stroke="#7E2F8E" stroke-width="0.4"/>
<circle cx="457.04" cy="186.01" r="2.9" fill="#7E2F8E" stroke="#7E2F8E" stroke-width="0.4"/>
<circle cx="465.78" cy="170.77" r="2.9" fill="#7E2F8E" stroke="#7E2F8E" stroke-width="0.4"/>
<circle cx="474.53" cy="201.11" r="2.9" fill="#7E2F8E" stroke="#7E2F8E" stroke-width="0.4"/>
<circle cx="483.28" cy="163.13" r="2.9" fill="#7E2F8E" stroke="#7E2F8E" stroke-width="0.4"/>
<circle cx="492.03" cy="169.13" r="2.9" fill="#7E2F8E" stroke="#7E2F8E" stroke-width="0.4"/>
<circle cx="500.78" cy="180.23" r="2.9" fill="#7E2F8E" stroke="#7E2F8E" stroke-width="0.4"/>
<circle cx="509.53" cy="176.68" r="2.9" fill="#7E2F8E" stroke="#7E2F8E" stroke-width="0.4"/>
<circle cx="518.28" cy="189.56" r="2.9" fill="#7E2F8E" stroke="#7E2F8E" stroke-width="0.4"/>
<circle cx="527.02" cy="169.13" r="2.9" fill="#7E2F8E" stroke="#7E2F8E" stroke-width="0.4"/>
<circle cx="535.77" cy="179.57" r="2.9" fill="#7E2F8E" stroke="#7E2F8E" stroke-width="0.4"/>
<circle cx="544.52" cy="177.12" r="2.9" fill="#7E2F8E" stroke="#7E2F8E" stroke-width="0.4"/>
<circle cx="553.27" cy="178.59" r="2.9" fill="#7E2F8E" stroke="#7E2F8E" stroke-width="0.4"/>
<circle cx="562.02" cy="185.12" r="2.9" fill="#7E2F8E" stroke="#7E2F8E" stroke-width="0.4"/>
<circle cx="570.77" cy="166.02" r="2.9" fill="#7E2F8E" stroke="#7E2F8E" stroke-width="0.4"/>
<circle cx="579.52" cy="206.26" r="2.9" fill="#7E2F8E" stroke="#7E2F8E" stroke-width="0.4"/>
<circle cx="588.26" cy="159.80" r="2.9" fill="#7E2F8E" stroke="#7E2F8E" stroke-width="0.4"/>
<circle cx="597.01" cy="174.90" r="2.9" fill="#7E2F8E" stroke="#7E2F8E" stroke-width="0.4"/>
<circle cx="605.76" cy="171.97" r="2.9" fill="#7E2F8E" stroke="#7E2F8E" stroke-width="0.4"/>
<circle cx="614.51" cy="175.35" r="2.9" fill="#7E2F8E" stroke="#7E2F8E" stroke-width="0.4"/>
<circle cx="623.26" cy="182.90" r="2.9" fill="#7E2F8E" stroke="#7E2F8E" stroke-width="0.4"/>
<circle cx="632.01" cy="205.99" r="2.9" fill="#7E2F8E" stroke="#7E2F8E" stroke-width="0.4"/>
<circle cx="640.76" cy="175.66" r="2.9" fill="#7E2F8E" stroke="#7E2F8E" stroke-width="0.4"/>
<circle cx="649.51" cy="159.36" r="2.9" fill="#7E2F8E" stroke="#7E2F8E" stroke-width="0.4"/>
<circle cx="658.25" cy="190.00" r="2.9" fill="#7E2F8E" stroke="#7E2F8E" stroke-width="0.4"/>
<circle cx="667.00" cy="161.80" r="2.9" fill="#7E2F8E" stroke="#7E2F8E" stroke-width="0.4"/>
<circle cx="675.75" cy="189.12" r="2.9" fill="#7E2F8E" stroke="#7E2F8E" stroke-width="0.4"/>
<polygon points="369.55,197.02 366.35,202.59 372.75,202.59" fill="none" stroke="#EDB120" stroke-width="1.0" stroke-linejoin="miter"/>
<polygon points="378.30,184.58 375.10,190.15 381.50,190.15" fill="none" stroke="#EDB120" stroke-width="1.0" stroke-linejoin="miter"/>
<polygon points="387.05,146.74 383.85,152.31 390.25,152.31" fill="none" stroke="#EDB120" stroke-width="1.0" stroke-linejoin="miter"/>
<polygon points="395.79,149.05 392.59,154.62 398.99,154.62" fill="none" stroke="#EDB120" stroke-width="1.0" stroke-linejoin="miter"/>
<polygon points="404.54,168.15 401.34,173.72 407.74,173.72" fill="none" stroke="#EDB120" stroke-width="1.0" stroke-linejoin="miter"/>
<polygon points="413.29,191.69 410.09,197.26 416.49,197.26" fill="none" stroke="#EDB120" stroke-width="1.0" stroke-linejoin="miter"/>
<polygon points="422.04,178.36 418.84,183.93 425.24,183.93" fill="none" stroke="#EDB120" stroke-width="1.0" stroke-linejoin="miter"/>
<polygon points="430.79,196.84 427.59,202.41 433.99,202.41" fill="none" stroke="#EDB120" stroke-width="1.0" stroke-linejoin="miter"/>
<polygon points="439.54,147.72 436.34,153.29 442.74,153.29" fill="none" stroke="#EDB120" stroke-width="1.0" stroke-linejoin="miter"/>
<polygon points="448.29,204.57 445.09,210.14 451.49,210.14" fill="none" stroke="#EDB120" stroke-width="1.0" stroke-linejoin="miter"/>
<polygon points="457.04,177.92 453.84,183.49 460.24,183.49" fill="none" stroke="#EDB120" stroke-width="1.0" stroke-linejoin="miter"/>
<polygon points="465.78,156.16 462.58,161.73 468.98,161.73" fill="none" stroke="#EDB120" stroke-width="1.0" stroke-linejoin="miter"/>
<polygon points="474.53,216.78 471.33,222.35 477.73,222.35" fill="none" stroke="#EDB120" stroke-width="1.0" stroke-linejoin="miter"/>
<polygon points="483.28,164.33 480.08,169.90 486.48,169.90" fill="none" stroke="#EDB120" stroke-width="1.0" stroke-linejoin="miter"/>
<polygon points="492.03,160.60 488.83,166.17 495.23,166.17" fill="none" stroke="#EDB120" stroke-width="1.0" stroke-linejoin="miter"/>
<polygon points="500.78,177.92 497.58,183.49 503.98,183.49" fill="none" stroke="#EDB120" stroke-width="1.0" stroke-linejoin="miter"/>
<polygon points="509.53,159.93 506.33,165.50 512.73,165.50" fill="none" stroke="#EDB120" stroke-width="1.0" stroke-linejoin="miter"/>
<polygon points="518.28,193.91 515.08,199.48 521.48,199.48" fill="none" stroke="#EDB120" stroke-width="1.0" stroke-linejoin="miter"/>
<polygon points="527.02,162.82 523.82,168.39 530.22,168.39" fill="none" stroke="#EDB120" stroke-width="1.0" stroke-linejoin="miter"/>
<polygon points="535.77,175.48 532.57,181.05 538.97,181.05" fill="none" stroke="#EDB120" stroke-width="1.0" stroke-linejoin="miter"/>
<polygon points="544.52,182.36 541.32,187.93 547.72,187.93" fill="none" stroke="#EDB120" stroke-width="1.0" stroke-linejoin="miter"/>
<polygon points="553.27,164.60 550.07,170.16 556.47,170.16" fill="none" stroke="#EDB120" stroke-width="1.0" stroke-linejoin="miter"/>
<polygon points="562.02,187.69 558.82,193.26 565.22,193.26" fill="none" stroke="#EDB120" stroke-width="1.0" stroke-linejoin="miter"/>
<polygon points="570.77,157.71 567.57,163.28 573.97,163.28" fill="none" stroke="#EDB120" stroke-width="1.0" stroke-linejoin="miter"/>
<polygon points="579.52,215.23 576.32,220.80 582.72,220.80" fill="none" stroke="#EDB120" stroke-width="1.0" stroke-linejoin="miter"/>
<polygon points="588.26,149.50 585.06,155.06 591.46,155.06" fill="none" stroke="#EDB120" stroke-width="1.0" stroke-linejoin="miter"/>
<polygon points="597.01,162.15 593.81,167.72 600.21,167.72" fill="none" stroke="#EDB120" stroke-width="1.0" stroke-linejoin="miter"/>
<polygon points="605.76,154.82 602.56,160.39 608.96,160.39" fill="none" stroke="#EDB120" stroke-width="1.0" stroke-linejoin="miter"/>
<polygon points="614.51,167.93 611.31,173.50 617.71,173.50" fill="none" stroke="#EDB120" stroke-width="1.0" stroke-linejoin="miter"/>
<polygon points="623.26,184.58 620.06,190.15 626.46,190.15" fill="none" stroke="#EDB120" stroke-width="1.0" stroke-linejoin="miter"/>
<polygon points="632.01,218.34 628.81,223.91 635.21,223.91" fill="none" stroke="#EDB120" stroke-width="1.0" stroke-linejoin="miter"/>
<polygon points="640.76,180.14 637.56,185.71 643.96,185.71" fill="none" stroke="#EDB120" stroke-width="1.0" stroke-linejoin="miter"/>
<polygon points="649.51,145.05 646.31,150.62 652.71,150.62" fill="none" stroke="#EDB120" stroke-width="1.0" stroke-linejoin="miter"/>
<polygon points="658.25,194.80 655.05,200.37 661.45,200.37" fill="none" stroke="#EDB120" stroke-width="1.0" stroke-linejoin="miter"/>
<polygon points="667.00,156.60 663.80,162.17 670.20,162.17" fill="none" stroke="#EDB120" stroke-width="1.0" stroke-linejoin="miter"/>
<polygon points="675.75,188.14 672.55,193.70 678.95,193.70" fill="none" stroke="#EDB120" stroke-width="1.0" stroke-linejoin="miter"/>
<circle cx="369.55" cy="190.89" r="2.65" fill="none" stroke="#7E2F8E" stroke-width="1.05"/>
<circle cx="378.30" cy="183.12" r="2.65" fill="none" stroke="#7E2F8E" stroke-width="1.05"/>
<circle cx="387.05" cy="163.22" r="2.65" fill="none" stroke="#7E2F8E" stroke-width="1.05"/>
<circle cx="395.79" cy="164.91" r="2.65" fill="none" stroke="#7E2F8E" stroke-width="1.05"/>
<circle cx="404.54" cy="174.90" r="2.65" fill="none" stroke="#7E2F8E" stroke-width="1.05"/>
<circle cx="413.29" cy="188.23" r="2.65" fill="none" stroke="#7E2F8E" stroke-width="1.05"/>
<circle cx="422.04" cy="180.59" r="2.65" fill="none" stroke="#7E2F8E" stroke-width="1.05"/>
<circle cx="430.79" cy="190.45" r="2.65" fill="none" stroke="#7E2F8E" stroke-width="1.05"/>
<circle cx="439.54" cy="163.80" r="2.65" fill="none" stroke="#7E2F8E" stroke-width="1.05"/>
<circle cx="448.29" cy="194.45" r="2.65" fill="none" stroke="#7E2F8E" stroke-width="1.05"/>
<circle cx="457.04" cy="180.14" r="2.65" fill="none" stroke="#7E2F8E" stroke-width="1.05"/>
<circle cx="465.78" cy="167.53" r="2.65" fill="none" stroke="#7E2F8E" stroke-width="1.05"/>
<circle cx="474.53" cy="201.86" r="2.65" fill="none" stroke="#7E2F8E" stroke-width="1.05"/>
<circle cx="483.28" cy="172.99" r="2.65" fill="none" stroke="#7E2F8E" stroke-width="1.05"/>
<circle cx="492.03" cy="170.91" r="2.65" fill="none" stroke="#7E2F8E" stroke-width="1.05"/>
<circle cx="500.78" cy="180.68" r="2.65" fill="none" stroke="#7E2F8E" stroke-width="1.05"/>
<circle cx="509.53" cy="170.46" r="2.65" fill="none" stroke="#7E2F8E" stroke-width="1.05"/>
<circle cx="518.28" cy="188.67" r="2.65" fill="none" stroke="#7E2F8E" stroke-width="1.05"/>
<circle cx="527.02" cy="171.79" r="2.65" fill="none" stroke="#7E2F8E" stroke-width="1.05"/>
<circle cx="535.77" cy="178.90" r="2.65" fill="none" stroke="#7E2F8E" stroke-width="1.05"/>
<circle cx="544.52" cy="182.23" r="2.65" fill="none" stroke="#7E2F8E" stroke-width="1.05"/>
<circle cx="553.27" cy="172.99" r="2.65" fill="none" stroke="#7E2F8E" stroke-width="1.05"/>
<circle cx="562.02" cy="185.56" r="2.65" fill="none" stroke="#7E2F8E" stroke-width="1.05"/>
<circle cx="570.77" cy="169.75" r="2.65" fill="none" stroke="#7E2F8E" stroke-width="1.05"/>
<circle cx="579.52" cy="200.80" r="2.65" fill="none" stroke="#7E2F8E" stroke-width="1.05"/>
<circle cx="588.26" cy="164.69" r="2.65" fill="none" stroke="#7E2F8E" stroke-width="1.05"/>
<circle cx="597.01" cy="171.35" r="2.65" fill="none" stroke="#7E2F8E" stroke-width="1.05"/>
<circle cx="605.76" cy="167.13" r="2.65" fill="none" stroke="#7E2F8E" stroke-width="1.05"/>
<circle cx="614.51" cy="174.68" r="2.65" fill="none" stroke="#7E2F8E" stroke-width="1.05"/>
<circle cx="623.26" cy="183.79" r="2.65" fill="none" stroke="#7E2F8E" stroke-width="1.05"/>
<circle cx="632.01" cy="201.86" r="2.65" fill="none" stroke="#7E2F8E" stroke-width="1.05"/>
<circle cx="640.76" cy="181.56" r="2.65" fill="none" stroke="#7E2F8E" stroke-width="1.05"/>
<circle cx="649.51" cy="162.47" r="2.65" fill="none" stroke="#7E2F8E" stroke-width="1.05"/>
<circle cx="658.25" cy="189.56" r="2.65" fill="none" stroke="#7E2F8E" stroke-width="1.05"/>
<circle cx="667.00" cy="168.24" r="2.65" fill="none" stroke="#7E2F8E" stroke-width="1.05"/>
<circle cx="675.75" cy="185.56" r="2.65" fill="none" stroke="#7E2F8E" stroke-width="1.05"/>
<line x1="361.30" y1="284.43" x2="684.00" y2="284.43" stroke="#3a3a3a" stroke-width="0.9" />
<polyline points="369.55,287.60 378.30,292.23 387.05,255.02 395.79,281.77 404.54,291.17 413.29,257.01 422.04,298.85 430.79,300.17 439.54,286.93 448.29,292.89 457.04,272.37 465.78,278.46 474.53,285.48 483.28,301.89 492.03,287.46 500.78,284.95 509.53,271.84 518.28,280.98 527.02,290.24 535.77,282.96 544.52,294.22 553.27,272.90 562.02,284.95 570.77,291.17 579.52,272.63 588.26,293.16 597.01,277.00 605.76,275.15 614.51,282.96 623.26,286.14 632.01,275.94 640.76,293.55 649.51,288.79 658.25,283.49 667.00,296.20 675.75,277.00" fill="none" stroke="#EDB120" stroke-width="0.75" stroke-linejoin="round" />
<polyline points="369.55,279.12 378.30,271.44 387.05,330.36 395.79,287.99 404.54,272.63 413.29,327.18 422.04,261.51 430.79,258.60 439.54,280.05 448.29,269.72 457.04,302.95 465.78,293.95 474.53,282.03 483.28,255.95 492.03,279.12 500.78,282.43 509.53,303.88 518.28,288.26 527.02,275.15 535.77,287.20 544.52,268.53 553.27,301.63 562.02,282.43 570.77,273.69 579.52,302.29 588.26,270.38 597.01,295.67 605.76,298.98 614.51,286.67 623.26,280.98 632.01,296.86 640.76,269.19 649.51,276.34 658.25,286.67 667.00,265.62 675.75,295.41" fill="none" stroke="#7E2F8E" stroke-width="0.75" stroke-linejoin="round" />
<polyline points="369.55,284.55 378.30,283.49 387.05,288.52 395.79,284.55 404.54,283.49 413.29,288.39 422.04,282.96 430.79,282.56 439.54,284.55 448.29,283.49 457.04,285.21 465.78,285.21 474.53,284.55 483.28,282.56 492.03,284.55 500.78,284.15 509.53,285.61 518.28,284.55 527.02,283.89 535.77,284.55 544.52,283.49 553.27,285.21 562.02,284.55 570.77,283.89 579.52,285.61 588.26,283.89 597.01,284.95 605.76,285.21 614.51,284.55 623.26,284.55 632.01,284.95 640.76,283.89 649.51,284.15 658.25,284.55 667.00,283.49 675.75,284.81" fill="none" stroke="#000" stroke-width="1.3" stroke-linejoin="round" />
<polygon points="369.55,284.20 366.15,290.11 372.95,290.11" fill="#EDB120" stroke="#EDB120" stroke-width="0.5" stroke-linejoin="miter"/>
<polygon points="378.30,288.83 374.90,294.75 381.70,294.75" fill="#EDB120" stroke="#EDB120" stroke-width="0.5" stroke-linejoin="miter"/>
<polygon points="387.05,251.62 383.65,257.54 390.45,257.54" fill="#EDB120" stroke="#EDB120" stroke-width="0.5" stroke-linejoin="miter"/>
<polygon points="395.79,278.37 392.39,284.29 399.19,284.29" fill="#EDB120" stroke="#EDB120" stroke-width="0.5" stroke-linejoin="miter"/>
<polygon points="404.54,287.77 401.14,293.69 407.94,293.69" fill="#EDB120" stroke="#EDB120" stroke-width="0.5" stroke-linejoin="miter"/>
<polygon points="413.29,253.61 409.89,259.53 416.69,259.53" fill="#EDB120" stroke="#EDB120" stroke-width="0.5" stroke-linejoin="miter"/>
<polygon points="422.04,295.45 418.64,301.37 425.44,301.37" fill="#EDB120" stroke="#EDB120" stroke-width="0.5" stroke-linejoin="miter"/>
<polygon points="430.79,296.77 427.39,302.69 434.19,302.69" fill="#EDB120" stroke="#EDB120" stroke-width="0.5" stroke-linejoin="miter"/>
<polygon points="439.54,283.53 436.14,289.45 442.94,289.45" fill="#EDB120" stroke="#EDB120" stroke-width="0.5" stroke-linejoin="miter"/>
<polygon points="448.29,289.49 444.89,295.41 451.69,295.41" fill="#EDB120" stroke="#EDB120" stroke-width="0.5" stroke-linejoin="miter"/>
<polygon points="457.04,268.97 453.64,274.89 460.44,274.89" fill="#EDB120" stroke="#EDB120" stroke-width="0.5" stroke-linejoin="miter"/>
<polygon points="465.78,275.06 462.38,280.98 469.18,280.98" fill="#EDB120" stroke="#EDB120" stroke-width="0.5" stroke-linejoin="miter"/>
<polygon points="474.53,282.08 471.13,287.99 477.93,287.99" fill="#EDB120" stroke="#EDB120" stroke-width="0.5" stroke-linejoin="miter"/>
<polygon points="483.28,298.49 479.88,304.41 486.68,304.41" fill="#EDB120" stroke="#EDB120" stroke-width="0.5" stroke-linejoin="miter"/>
<polygon points="492.03,284.06 488.63,289.98 495.43,289.98" fill="#EDB120" stroke="#EDB120" stroke-width="0.5" stroke-linejoin="miter"/>
<polygon points="500.78,281.55 497.38,287.46 504.18,287.46" fill="#EDB120" stroke="#EDB120" stroke-width="0.5" stroke-linejoin="miter"/>
<polygon points="509.53,268.44 506.13,274.36 512.93,274.36" fill="#EDB120" stroke="#EDB120" stroke-width="0.5" stroke-linejoin="miter"/>
<polygon points="518.28,277.58 514.88,283.49 521.68,283.49" fill="#EDB120" stroke="#EDB120" stroke-width="0.5" stroke-linejoin="miter"/>
<polygon points="527.02,286.84 523.62,292.76 530.42,292.76" fill="#EDB120" stroke="#EDB120" stroke-width="0.5" stroke-linejoin="miter"/>
<polygon points="535.77,279.56 532.37,285.48 539.17,285.48" fill="#EDB120" stroke="#EDB120" stroke-width="0.5" stroke-linejoin="miter"/>
<polygon points="544.52,290.82 541.12,296.73 547.92,296.73" fill="#EDB120" stroke="#EDB120" stroke-width="0.5" stroke-linejoin="miter"/>
<polygon points="553.27,269.50 549.87,275.41 556.67,275.41" fill="#EDB120" stroke="#EDB120" stroke-width="0.5" stroke-linejoin="miter"/>
<polygon points="562.02,281.55 558.62,287.46 565.42,287.46" fill="#EDB120" stroke="#EDB120" stroke-width="0.5" stroke-linejoin="miter"/>
<polygon points="570.77,287.77 567.37,293.69 574.17,293.69" fill="#EDB120" stroke="#EDB120" stroke-width="0.5" stroke-linejoin="miter"/>
<polygon points="579.52,269.23 576.12,275.15 582.92,275.15" fill="#EDB120" stroke="#EDB120" stroke-width="0.5" stroke-linejoin="miter"/>
<polygon points="588.26,289.76 584.86,295.67 591.66,295.67" fill="#EDB120" stroke="#EDB120" stroke-width="0.5" stroke-linejoin="miter"/>
<polygon points="597.01,273.60 593.61,279.52 600.41,279.52" fill="#EDB120" stroke="#EDB120" stroke-width="0.5" stroke-linejoin="miter"/>
<polygon points="605.76,271.75 602.36,277.67 609.16,277.67" fill="#EDB120" stroke="#EDB120" stroke-width="0.5" stroke-linejoin="miter"/>
<polygon points="614.51,279.56 611.11,285.48 617.91,285.48" fill="#EDB120" stroke="#EDB120" stroke-width="0.5" stroke-linejoin="miter"/>
<polygon points="623.26,282.74 619.86,288.65 626.66,288.65" fill="#EDB120" stroke="#EDB120" stroke-width="0.5" stroke-linejoin="miter"/>
<polygon points="632.01,272.54 628.61,278.46 635.41,278.46" fill="#EDB120" stroke="#EDB120" stroke-width="0.5" stroke-linejoin="miter"/>
<polygon points="640.76,290.15 637.36,296.07 644.16,296.07" fill="#EDB120" stroke="#EDB120" stroke-width="0.5" stroke-linejoin="miter"/>
<polygon points="649.51,285.39 646.11,291.30 652.91,291.30" fill="#EDB120" stroke="#EDB120" stroke-width="0.5" stroke-linejoin="miter"/>
<polygon points="658.25,280.09 654.85,286.01 661.65,286.01" fill="#EDB120" stroke="#EDB120" stroke-width="0.5" stroke-linejoin="miter"/>
<polygon points="667.00,292.80 663.60,298.72 670.40,298.72" fill="#EDB120" stroke="#EDB120" stroke-width="0.5" stroke-linejoin="miter"/>
<polygon points="675.75,273.60 672.35,279.52 679.15,279.52" fill="#EDB120" stroke="#EDB120" stroke-width="0.5" stroke-linejoin="miter"/>
<circle cx="369.55" cy="279.12" r="2.85" fill="#7E2F8E" stroke="#7E2F8E" stroke-width="0.4"/>
<circle cx="378.30" cy="271.44" r="2.85" fill="#7E2F8E" stroke="#7E2F8E" stroke-width="0.4"/>
<circle cx="387.05" cy="330.36" r="2.85" fill="#7E2F8E" stroke="#7E2F8E" stroke-width="0.4"/>
<circle cx="395.79" cy="287.99" r="2.85" fill="#7E2F8E" stroke="#7E2F8E" stroke-width="0.4"/>
<circle cx="404.54" cy="272.63" r="2.85" fill="#7E2F8E" stroke="#7E2F8E" stroke-width="0.4"/>
<circle cx="413.29" cy="327.18" r="2.85" fill="#7E2F8E" stroke="#7E2F8E" stroke-width="0.4"/>
<circle cx="422.04" cy="261.51" r="2.85" fill="#7E2F8E" stroke="#7E2F8E" stroke-width="0.4"/>
<circle cx="430.79" cy="258.60" r="2.85" fill="#7E2F8E" stroke="#7E2F8E" stroke-width="0.4"/>
<circle cx="439.54" cy="280.05" r="2.85" fill="#7E2F8E" stroke="#7E2F8E" stroke-width="0.4"/>
<circle cx="448.29" cy="269.72" r="2.85" fill="#7E2F8E" stroke="#7E2F8E" stroke-width="0.4"/>
<circle cx="457.04" cy="302.95" r="2.85" fill="#7E2F8E" stroke="#7E2F8E" stroke-width="0.4"/>
<circle cx="465.78" cy="293.95" r="2.85" fill="#7E2F8E" stroke="#7E2F8E" stroke-width="0.4"/>
<circle cx="474.53" cy="282.03" r="2.85" fill="#7E2F8E" stroke="#7E2F8E" stroke-width="0.4"/>
<circle cx="483.28" cy="255.95" r="2.85" fill="#7E2F8E" stroke="#7E2F8E" stroke-width="0.4"/>
<circle cx="492.03" cy="279.12" r="2.85" fill="#7E2F8E" stroke="#7E2F8E" stroke-width="0.4"/>
<circle cx="500.78" cy="282.43" r="2.85" fill="#7E2F8E" stroke="#7E2F8E" stroke-width="0.4"/>
<circle cx="509.53" cy="303.88" r="2.85" fill="#7E2F8E" stroke="#7E2F8E" stroke-width="0.4"/>
<circle cx="518.28" cy="288.26" r="2.85" fill="#7E2F8E" stroke="#7E2F8E" stroke-width="0.4"/>
<circle cx="527.02" cy="275.15" r="2.85" fill="#7E2F8E" stroke="#7E2F8E" stroke-width="0.4"/>
<circle cx="535.77" cy="287.20" r="2.85" fill="#7E2F8E" stroke="#7E2F8E" stroke-width="0.4"/>
<circle cx="544.52" cy="268.53" r="2.85" fill="#7E2F8E" stroke="#7E2F8E" stroke-width="0.4"/>
<circle cx="553.27" cy="301.63" r="2.85" fill="#7E2F8E" stroke="#7E2F8E" stroke-width="0.4"/>
<circle cx="562.02" cy="282.43" r="2.85" fill="#7E2F8E" stroke="#7E2F8E" stroke-width="0.4"/>
<circle cx="570.77" cy="273.69" r="2.85" fill="#7E2F8E" stroke="#7E2F8E" stroke-width="0.4"/>
<circle cx="579.52" cy="302.29" r="2.85" fill="#7E2F8E" stroke="#7E2F8E" stroke-width="0.4"/>
<circle cx="588.26" cy="270.38" r="2.85" fill="#7E2F8E" stroke="#7E2F8E" stroke-width="0.4"/>
<circle cx="597.01" cy="295.67" r="2.85" fill="#7E2F8E" stroke="#7E2F8E" stroke-width="0.4"/>
<circle cx="605.76" cy="298.98" r="2.85" fill="#7E2F8E" stroke="#7E2F8E" stroke-width="0.4"/>
<circle cx="614.51" cy="286.67" r="2.85" fill="#7E2F8E" stroke="#7E2F8E" stroke-width="0.4"/>
<circle cx="623.26" cy="280.98" r="2.85" fill="#7E2F8E" stroke="#7E2F8E" stroke-width="0.4"/>
<circle cx="632.01" cy="296.86" r="2.85" fill="#7E2F8E" stroke="#7E2F8E" stroke-width="0.4"/>
<circle cx="640.76" cy="269.19" r="2.85" fill="#7E2F8E" stroke="#7E2F8E" stroke-width="0.4"/>
<circle cx="649.51" cy="276.34" r="2.85" fill="#7E2F8E" stroke="#7E2F8E" stroke-width="0.4"/>
<circle cx="658.25" cy="286.67" r="2.85" fill="#7E2F8E" stroke="#7E2F8E" stroke-width="0.4"/>
<circle cx="667.00" cy="265.62" r="2.85" fill="#7E2F8E" stroke="#7E2F8E" stroke-width="0.4"/>
<circle cx="675.75" cy="295.41" r="2.85" fill="#7E2F8E" stroke="#7E2F8E" stroke-width="0.4"/>
<rect x="433.3" y="15.5" width="178.40000000000003" height="21.4" fill="#fff" stroke="#262626" stroke-width="1.05"/>
<line x1="436.10" y1="21.00" x2="450.80" y2="21.00" stroke="#b5b5b5" stroke-width="2.0" />
<circle cx="443.50" cy="21.00" r="1.5" fill="#a6a6a6" stroke="none" stroke-width="0"/>
<text x="453.00" y="24.30" font-size="8.38" text-anchor="start" fill="#262626" font-weight="normal" >All CA CoastSat</text>
<path d="M523.2,19.2 l3.4,3.4 M526.6,19.2 l-3.4,3.4" stroke="#FF00FF" stroke-width="1.2" fill="none"/>
<text x="534.00" y="24.30" font-size="8.38" text-anchor="start" fill="#262626" font-weight="normal" >All CA Modes 1+2</text>
<circle cx="443.30" cy="31.00" r="2.7" fill="none" stroke="#000" stroke-width="1.25"/>
<text x="453.00" y="34.20" font-size="8.38" text-anchor="start" fill="#262626" font-weight="normal" >All CA Mode 1</text>
<line x1="516.80" y1="30.80" x2="532.60" y2="30.80" stroke="#000" stroke-width="1.25" stroke-dasharray="0.01 1.9" stroke-linecap="round"/>
<text x="534.00" y="34.20" font-size="8.38" text-anchor="start" fill="#262626" font-weight="normal" >All CA EOF Residual</text>
<rect x="402.7" y="125.2" width="239.3" height="21.299999999999997" fill="#fff" stroke="#262626" stroke-width="1.05"/>
<line x1="405.30" y1="131.00" x2="420.20" y2="131.00" stroke="#EDB120" stroke-width="1.4" />
<text x="421.70" y="134.10" font-size="8.38" text-anchor="start" fill="#262626" font-weight="normal" >N. CA CoastSat</text>
<line x1="405.30" y1="141.00" x2="420.20" y2="141.00" stroke="#7E2F8E" stroke-width="1.4" />
<text x="421.70" y="143.90" font-size="8.38" text-anchor="start" fill="#262626" font-weight="normal" >S. CA CoastSat</text>
<polygon points="492.20,128.10 489.10,133.49 495.30,133.49" fill="none" stroke="#EDB120" stroke-width="1.0" stroke-linejoin="miter"/>
<text x="501.50" y="134.10" font-size="8.38" text-anchor="start" fill="#262626" font-weight="normal" >N. CA Mode 1</text>
<circle cx="492.20" cy="140.60" r="2.6" fill="none" stroke="#7E2F8E" stroke-width="1.05"/>
<text x="501.50" y="143.90" font-size="8.38" text-anchor="start" fill="#262626" font-weight="normal" >S. CA Mode 1</text>
<polygon points="565.80,127.80 562.40,133.72 569.20,133.72" fill="#EDB120" stroke="#EDB120" stroke-width="0.5" stroke-linejoin="miter"/>
<text x="575.20" y="134.10" font-size="8.38" text-anchor="start" fill="#262626" font-weight="normal" >N. CA Modes 1+2</text>
<circle cx="565.80" cy="140.70" r="2.75" fill="#7E2F8E" stroke="#7E2F8E" stroke-width="0.4"/>
<text x="575.20" y="143.90" font-size="8.38" text-anchor="start" fill="#262626" font-weight="normal" >S. CA Modes 1+2</text>
<rect x="411.5" y="235.6" width="221.79999999999995" height="10.900000000000006" fill="#fff" stroke="#262626" stroke-width="1.05"/>
<line x1="413.80" y1="241.10" x2="428.30" y2="241.10" stroke="#000" stroke-width="1.3" />
<text x="430.90" y="244.10" font-size="8.38" text-anchor="start" fill="#262626" font-weight="normal" >All CA Mode 2</text>
<line x1="488.70" y1="241.10" x2="504.00" y2="241.10" stroke="#EDB120" stroke-width="0.8" />
<polygon points="496.10,238.10 492.80,243.84 499.40,243.84" fill="#EDB120" stroke="#EDB120" stroke-width="0.5" stroke-linejoin="miter"/>
<text x="505.60" y="244.10" font-size="8.38" text-anchor="start" fill="#262626" font-weight="normal" >N. CA Mode 2</text>
<line x1="562.20" y1="241.10" x2="577.50" y2="241.10" stroke="#7E2F8E" stroke-width="0.8" />
<circle cx="569.90" cy="241.10" r="2.85" fill="#7E2F8E" stroke="#7E2F8E" stroke-width="0.4"/>
<text x="579.70" y="244.10" font-size="8.38" text-anchor="start" fill="#262626" font-weight="normal" >S. CA Mode 2</text>
<text x="369.70" y="28.80" font-size="10.2" text-anchor="start" fill="#000" font-weight="bold" >(c)</text>
<text x="369.90" y="132.80" font-size="10.2" text-anchor="start" fill="#000" font-weight="bold" >(d)</text>
<text x="369.90" y="241.90" font-size="10.2" text-anchor="start" fill="#000" font-weight="bold" >(e)</text>
<text x="522.50" y="7.70" font-size="10.35" text-anchor="middle" fill="#262626" font-weight="normal" >Mode 1 &amp; 2 Regional Means</text>
<text x="522.50" y="373.00" font-size="10.2" text-anchor="middle" fill="#262626" font-weight="normal" >Year</text>
<text transform="translate(340.1,173.8) rotate(-90)" font-size="10.2" text-anchor="middle" fill="#262626">Shoreline Change (m/yr)</text>
</g>
</svg>
</body></html>
